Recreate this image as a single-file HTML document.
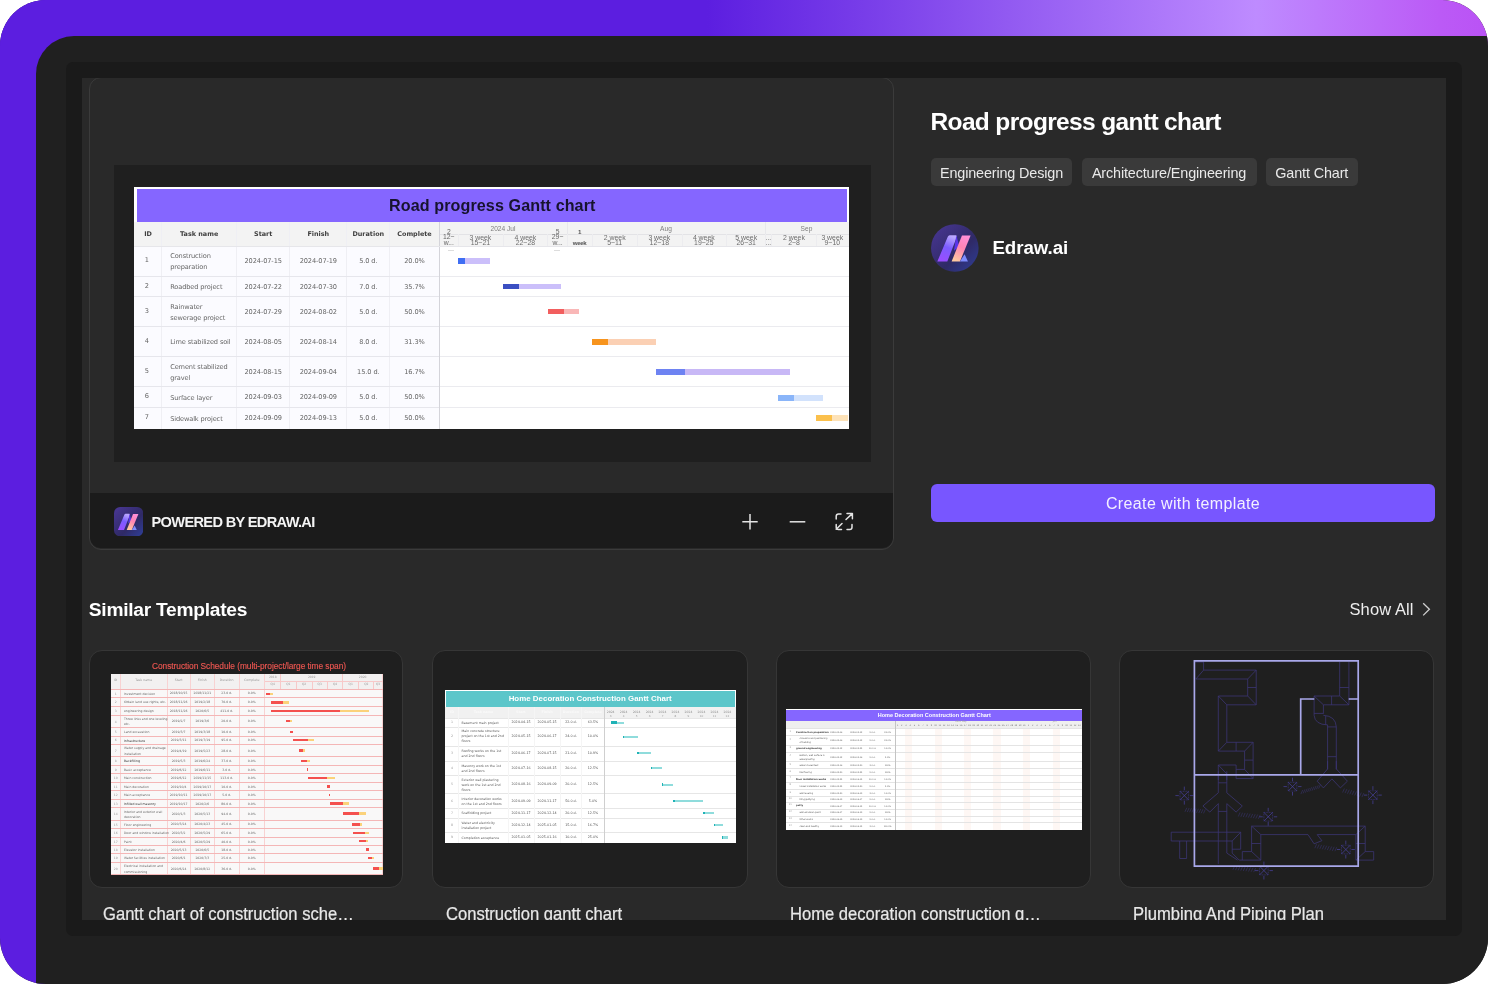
<!DOCTYPE html>
<html lang="en"><head><meta charset="utf-8"><title>Road progress gantt chart</title>
<style>
*{box-sizing:border-box;margin:0;padding:0}
html,body{width:1488px;height:984px;overflow:hidden;background:#fff}
body{font-family:"Liberation Sans",sans-serif;position:relative}
.abs{position:absolute}
#outer{position:absolute;left:0;top:0;width:1488px;height:984px;border-radius:46px;overflow:hidden;background:#202020}
#ptop{position:absolute;left:0;top:0;width:1488px;height:90px;background:linear-gradient(90deg,#5c1ee0 0px,#5c1ee0 707px,#be8bff 1256px,#bb5af6 1440px,#ba52f5 1488px)}
#pleft{position:absolute;left:0;top:0;width:90px;height:984px;background:#5c1ee0}
#frame{position:absolute;left:36px;top:36px;width:1452px;height:948px;background:#202020;border-top-left-radius:38px}
#inner{position:absolute;left:66px;top:62px;width:1396px;height:874px;background:#1a1a1a;border-radius:7px}
#content{position:absolute;left:82px;top:78px;width:1364px;height:842px;background:#292929;overflow:hidden}
#pg{position:absolute;left:-82px;top:-78px;width:1488px;height:984px}
.t{position:absolute;white-space:nowrap;line-height:1}
#maincard{position:absolute;left:89px;top:77px;width:805px;height:472.6px;border:1px solid #3b3b3b;border-radius:12px;overflow:hidden;background:#292929}
#prev{position:absolute;left:113.5px;top:165px;width:757px;height:297px;background:#1f1f1f}
#bar{position:absolute;left:90px;top:493px;width:803px;height:55px;background:#1b1b1b;border-radius:0 0 11px 11px}
.tag{position:absolute;top:157.8px;height:28.4px;background:#3a3a3a;border-radius:5px;color:#e9e9e9;font-size:14.4px;line-height:30.4px;text-align:center;white-space:nowrap;letter-spacing:-0.14px}
#btn{position:absolute;left:931px;top:484px;width:504px;height:38px;border-radius:6px;background:#7856ff;color:#f3f0ff;font-size:16px;line-height:40.4px;text-align:center;letter-spacing:0.37px}
.card{position:absolute;top:650.2px;width:314.5px;height:237.9px;border:1px solid #363636;border-radius:13px;background:#1f1f1f;overflow:hidden}
.cap{position:absolute;top:903.7px;font-size:17.7px;color:#e8e8e8;white-space:nowrap;line-height:20px;transform:scaleX(0.938);transform-origin:0 0;-webkit-text-stroke:0.2px #e8e8e8}
</style></head>
<body>
<div id="outer"><div id="ptop"></div><div id="pleft"></div><div id="frame"></div><div id="inner"></div>
<div id="content"><div id="pg">
<div id="maincard"></div>
<div id="prev"></div>
<div id="bar"></div>
<div id="gm" style="position:absolute;left:134.3px;top:187.2px;width:714.5px;height:241.4px;background:#fbfbff;overflow:hidden;filter:blur(0.3px);font-family:'DejaVu Sans','Liberation Sans',sans-serif"><div style="position:absolute;left:0px;top:0px;width:714.5px;height:34.5px;background:#fff;"></div><div style="position:absolute;left:2.4px;top:1.6px;width:710.6px;height:32.9px;background:#8566ff;"></div><div style="position:absolute;left:208px;top:8.64px;width:300px;font-size:16.1px;line-height:19.32px;color:#17132e;font-weight:bold;text-align:center;white-space:nowrap;font-family:'Liberation Sans',sans-serif;letter-spacing:0.1px;">Road progress Gantt chart</div><div style="position:absolute;left:0px;top:34.5px;width:714.5px;height:24.3px;background:#f3f3f3;"></div><div style="position:absolute;left:304.9px;top:58.8px;width:409.6px;height:182.6px;background:#ffffff;"></div><div style="position:absolute;left:27px;top:34.5px;width:0.8px;height:206.9px;background:#efeff4;"></div><div style="position:absolute;left:101.9px;top:34.5px;width:0.8px;height:206.9px;background:#efeff4;"></div><div style="position:absolute;left:155.1px;top:34.5px;width:0.8px;height:206.9px;background:#efeff4;"></div><div style="position:absolute;left:212.1px;top:34.5px;width:0.8px;height:206.9px;background:#efeff4;"></div><div style="position:absolute;left:255.1px;top:34.5px;width:0.8px;height:206.9px;background:#efeff4;"></div><div style="position:absolute;left:0px;top:88.65px;width:304.7px;height:0.9px;background:#e6e6ec;"></div><div style="position:absolute;left:304.7px;top:88.65px;width:409.8px;height:0.9px;background:#ebebef;"></div><div style="position:absolute;left:0px;top:108.85px;width:304.7px;height:0.9px;background:#e6e6ec;"></div><div style="position:absolute;left:304.7px;top:108.85px;width:409.8px;height:0.9px;background:#ebebef;"></div><div style="position:absolute;left:0px;top:138.95px;width:304.7px;height:0.9px;background:#e6e6ec;"></div><div style="position:absolute;left:304.7px;top:138.95px;width:409.8px;height:0.9px;background:#ebebef;"></div><div style="position:absolute;left:0px;top:168.85px;width:304.7px;height:0.9px;background:#e6e6ec;"></div><div style="position:absolute;left:304.7px;top:168.85px;width:409.8px;height:0.9px;background:#ebebef;"></div><div style="position:absolute;left:0px;top:198.95px;width:304.7px;height:0.9px;background:#e6e6ec;"></div><div style="position:absolute;left:304.7px;top:198.95px;width:409.8px;height:0.9px;background:#ebebef;"></div><div style="position:absolute;left:0px;top:219.65px;width:304.7px;height:0.9px;background:#e6e6ec;"></div><div style="position:absolute;left:304.7px;top:219.65px;width:409.8px;height:0.9px;background:#ebebef;"></div><div style="position:absolute;left:304.3px;top:34.5px;width:1px;height:206.9px;background:#d4d4da;"></div><div style="position:absolute;left:0px;top:58.4px;width:714.5px;height:0.8px;background:#e6e6ea;"></div><div style="position:absolute;left:-26.3px;top:43.53px;width:80px;font-size:6.45px;line-height:7.74px;color:#404040;font-weight:bold;text-align:center;white-space:nowrap;">ID</div><div style="position:absolute;left:24.85px;top:43.53px;width:80px;font-size:6.45px;line-height:7.74px;color:#404040;font-weight:bold;text-align:center;white-space:nowrap;">Task name</div><div style="position:absolute;left:88.9px;top:43.53px;width:80px;font-size:6.45px;line-height:7.74px;color:#404040;font-weight:bold;text-align:center;white-space:nowrap;">Start</div><div style="position:absolute;left:144px;top:43.53px;width:80px;font-size:6.45px;line-height:7.74px;color:#404040;font-weight:bold;text-align:center;white-space:nowrap;">Finish</div><div style="position:absolute;left:194px;top:43.53px;width:80px;font-size:6.45px;line-height:7.74px;color:#404040;font-weight:bold;text-align:center;white-space:nowrap;">Duration</div><div style="position:absolute;left:240.2px;top:43.53px;width:80px;font-size:6.45px;line-height:7.74px;color:#404040;font-weight:bold;text-align:center;white-space:nowrap;">Complete</div><div style="position:absolute;left:-27.5px;top:69.69px;width:80px;font-size:6.6px;line-height:7.92px;color:#666;font-weight:normal;text-align:center;white-space:nowrap;">1</div><div style="position:absolute;left:35.9px;top:63.65px;width:70px;font-size:6.6px;line-height:11.2px;color:#666;font-weight:normal;text-align:left;white-space:nowrap;letter-spacing:-0.12px;">Construction<br>preparation</div><div style="position:absolute;left:88.9px;top:70.89px;width:80px;font-size:6.6px;line-height:7.92px;color:#666;font-weight:normal;text-align:center;white-space:nowrap;letter-spacing:-0.1px;">2024-07-15</div><div style="position:absolute;left:144px;top:70.89px;width:80px;font-size:6.6px;line-height:7.92px;color:#666;font-weight:normal;text-align:center;white-space:nowrap;letter-spacing:-0.1px;">2024-07-19</div><div style="position:absolute;left:194px;top:70.89px;width:80px;font-size:6.6px;line-height:7.92px;color:#666;font-weight:normal;text-align:center;white-space:nowrap;letter-spacing:-0.1px;">5.0 d.</div><div style="position:absolute;left:240.2px;top:70.89px;width:80px;font-size:6.6px;line-height:7.92px;color:#666;font-weight:normal;text-align:center;white-space:nowrap;letter-spacing:-0.1px;">20.0%</div><div style="position:absolute;left:-27.5px;top:95.64px;width:80px;font-size:6.6px;line-height:7.92px;color:#666;font-weight:normal;text-align:center;white-space:nowrap;">2</div><div style="position:absolute;left:35.9px;top:95.2px;width:70px;font-size:6.6px;line-height:11.2px;color:#666;font-weight:normal;text-align:left;white-space:nowrap;letter-spacing:-0.12px;">Roadbed project</div><div style="position:absolute;left:88.9px;top:96.84px;width:80px;font-size:6.6px;line-height:7.92px;color:#666;font-weight:normal;text-align:center;white-space:nowrap;letter-spacing:-0.1px;">2024-07-22</div><div style="position:absolute;left:144px;top:96.84px;width:80px;font-size:6.6px;line-height:7.92px;color:#666;font-weight:normal;text-align:center;white-space:nowrap;letter-spacing:-0.1px;">2024-07-30</div><div style="position:absolute;left:194px;top:96.84px;width:80px;font-size:6.6px;line-height:7.92px;color:#666;font-weight:normal;text-align:center;white-space:nowrap;letter-spacing:-0.1px;">7.0 d.</div><div style="position:absolute;left:240.2px;top:96.84px;width:80px;font-size:6.6px;line-height:7.92px;color:#666;font-weight:normal;text-align:center;white-space:nowrap;letter-spacing:-0.1px;">35.7%</div><div style="position:absolute;left:-27.5px;top:121.09px;width:80px;font-size:6.6px;line-height:7.92px;color:#666;font-weight:normal;text-align:center;white-space:nowrap;">3</div><div style="position:absolute;left:35.9px;top:115.05px;width:70px;font-size:6.6px;line-height:11.2px;color:#666;font-weight:normal;text-align:left;white-space:nowrap;letter-spacing:-0.12px;">Rainwater<br>sewerage project</div><div style="position:absolute;left:88.9px;top:122.29px;width:80px;font-size:6.6px;line-height:7.92px;color:#666;font-weight:normal;text-align:center;white-space:nowrap;letter-spacing:-0.1px;">2024-07-29</div><div style="position:absolute;left:144px;top:122.29px;width:80px;font-size:6.6px;line-height:7.92px;color:#666;font-weight:normal;text-align:center;white-space:nowrap;letter-spacing:-0.1px;">2024-08-02</div><div style="position:absolute;left:194px;top:122.29px;width:80px;font-size:6.6px;line-height:7.92px;color:#666;font-weight:normal;text-align:center;white-space:nowrap;letter-spacing:-0.1px;">5.0 d.</div><div style="position:absolute;left:240.2px;top:122.29px;width:80px;font-size:6.6px;line-height:7.92px;color:#666;font-weight:normal;text-align:center;white-space:nowrap;letter-spacing:-0.1px;">50.0%</div><div style="position:absolute;left:-27.5px;top:150.49px;width:80px;font-size:6.6px;line-height:7.92px;color:#666;font-weight:normal;text-align:center;white-space:nowrap;">4</div><div style="position:absolute;left:35.9px;top:150.05px;width:70px;font-size:6.6px;line-height:11.2px;color:#666;font-weight:normal;text-align:left;white-space:nowrap;letter-spacing:-0.12px;">Lime stabilized soil</div><div style="position:absolute;left:88.9px;top:151.69px;width:80px;font-size:6.6px;line-height:7.92px;color:#666;font-weight:normal;text-align:center;white-space:nowrap;letter-spacing:-0.1px;">2024-08-05</div><div style="position:absolute;left:144px;top:151.69px;width:80px;font-size:6.6px;line-height:7.92px;color:#666;font-weight:normal;text-align:center;white-space:nowrap;letter-spacing:-0.1px;">2024-08-14</div><div style="position:absolute;left:194px;top:151.69px;width:80px;font-size:6.6px;line-height:7.92px;color:#666;font-weight:normal;text-align:center;white-space:nowrap;letter-spacing:-0.1px;">8.0 d.</div><div style="position:absolute;left:240.2px;top:151.69px;width:80px;font-size:6.6px;line-height:7.92px;color:#666;font-weight:normal;text-align:center;white-space:nowrap;letter-spacing:-0.1px;">31.3%</div><div style="position:absolute;left:-27.5px;top:180.89px;width:80px;font-size:6.6px;line-height:7.92px;color:#666;font-weight:normal;text-align:center;white-space:nowrap;">5</div><div style="position:absolute;left:35.9px;top:174.85px;width:70px;font-size:6.6px;line-height:11.2px;color:#666;font-weight:normal;text-align:left;white-space:nowrap;letter-spacing:-0.12px;">Cement stabilized<br>gravel</div><div style="position:absolute;left:88.9px;top:182.09px;width:80px;font-size:6.6px;line-height:7.92px;color:#666;font-weight:normal;text-align:center;white-space:nowrap;letter-spacing:-0.1px;">2024-08-15</div><div style="position:absolute;left:144px;top:182.09px;width:80px;font-size:6.6px;line-height:7.92px;color:#666;font-weight:normal;text-align:center;white-space:nowrap;letter-spacing:-0.1px;">2024-09-04</div><div style="position:absolute;left:194px;top:182.09px;width:80px;font-size:6.6px;line-height:7.92px;color:#666;font-weight:normal;text-align:center;white-space:nowrap;letter-spacing:-0.1px;">15.0 d.</div><div style="position:absolute;left:240.2px;top:182.09px;width:80px;font-size:6.6px;line-height:7.92px;color:#666;font-weight:normal;text-align:center;white-space:nowrap;letter-spacing:-0.1px;">16.7%</div><div style="position:absolute;left:-27.5px;top:205.89px;width:80px;font-size:6.6px;line-height:7.92px;color:#666;font-weight:normal;text-align:center;white-space:nowrap;">6</div><div style="position:absolute;left:35.9px;top:205.45px;width:70px;font-size:6.6px;line-height:11.2px;color:#666;font-weight:normal;text-align:left;white-space:nowrap;letter-spacing:-0.12px;">Surface layer</div><div style="position:absolute;left:88.9px;top:207.09px;width:80px;font-size:6.6px;line-height:7.92px;color:#666;font-weight:normal;text-align:center;white-space:nowrap;letter-spacing:-0.1px;">2024-09-03</div><div style="position:absolute;left:144px;top:207.09px;width:80px;font-size:6.6px;line-height:7.92px;color:#666;font-weight:normal;text-align:center;white-space:nowrap;letter-spacing:-0.1px;">2024-09-09</div><div style="position:absolute;left:194px;top:207.09px;width:80px;font-size:6.6px;line-height:7.92px;color:#666;font-weight:normal;text-align:center;white-space:nowrap;letter-spacing:-0.1px;">5.0 d.</div><div style="position:absolute;left:240.2px;top:207.09px;width:80px;font-size:6.6px;line-height:7.92px;color:#666;font-weight:normal;text-align:center;white-space:nowrap;letter-spacing:-0.1px;">50.0%</div><div style="position:absolute;left:-27.5px;top:226.89px;width:80px;font-size:6.6px;line-height:7.92px;color:#666;font-weight:normal;text-align:center;white-space:nowrap;">7</div><div style="position:absolute;left:35.9px;top:226.45px;width:70px;font-size:6.6px;line-height:11.2px;color:#666;font-weight:normal;text-align:left;white-space:nowrap;letter-spacing:-0.12px;">Sidewalk project</div><div style="position:absolute;left:88.9px;top:228.09px;width:80px;font-size:6.6px;line-height:7.92px;color:#666;font-weight:normal;text-align:center;white-space:nowrap;letter-spacing:-0.1px;">2024-09-09</div><div style="position:absolute;left:144px;top:228.09px;width:80px;font-size:6.6px;line-height:7.92px;color:#666;font-weight:normal;text-align:center;white-space:nowrap;letter-spacing:-0.1px;">2024-09-13</div><div style="position:absolute;left:194px;top:228.09px;width:80px;font-size:6.6px;line-height:7.92px;color:#666;font-weight:normal;text-align:center;white-space:nowrap;letter-spacing:-0.1px;">5.0 d.</div><div style="position:absolute;left:240.2px;top:228.09px;width:80px;font-size:6.6px;line-height:7.92px;color:#666;font-weight:normal;text-align:center;white-space:nowrap;letter-spacing:-0.1px;">50.0%</div><div style="position:absolute;left:305.3px;top:46.4px;width:409.2px;height:0.6px;background:#e3e3e6;"></div><div style="position:absolute;left:432.23px;top:34.5px;width:0.6px;height:12.3px;background:#e8e8eb;"></div><div style="position:absolute;left:630.32px;top:34.5px;width:0.6px;height:12.3px;background:#e8e8eb;"></div><div style="position:absolute;left:323.6px;top:46.8px;width:0.6px;height:12px;background:#ececef;"></div><div style="position:absolute;left:368.33px;top:46.8px;width:0.6px;height:12px;background:#ececef;"></div><div style="position:absolute;left:413.06px;top:46.8px;width:0.6px;height:12px;background:#ececef;"></div><div style="position:absolute;left:432.23px;top:46.8px;width:0.6px;height:12px;background:#ececef;"></div><div style="position:absolute;left:457.79px;top:46.8px;width:0.6px;height:12px;background:#ececef;"></div><div style="position:absolute;left:502.52px;top:46.8px;width:0.6px;height:12px;background:#ececef;"></div><div style="position:absolute;left:547.25px;top:46.8px;width:0.6px;height:12px;background:#ececef;"></div><div style="position:absolute;left:591.98px;top:46.8px;width:0.6px;height:12px;background:#ececef;"></div><div style="position:absolute;left:630.32px;top:46.8px;width:0.6px;height:12px;background:#ececef;"></div><div style="position:absolute;left:636.71px;top:46.8px;width:0.6px;height:12px;background:#ececef;"></div><div style="position:absolute;left:681.44px;top:46.8px;width:0.6px;height:12px;background:#ececef;"></div><div style="position:absolute;left:328.7px;top:38.14px;width:80px;font-size:6.6px;line-height:7.92px;color:#7e7e7e;font-weight:normal;text-align:center;white-space:nowrap;font-family:'Liberation Sans',sans-serif;">2024 Jul</div><div style="position:absolute;left:491.7px;top:38.14px;width:80px;font-size:6.6px;line-height:7.92px;color:#7e7e7e;font-weight:normal;text-align:center;white-space:nowrap;font-family:'Liberation Sans',sans-serif;">Aug</div><div style="position:absolute;left:632.2px;top:38.14px;width:80px;font-size:6.6px;line-height:7.92px;color:#7e7e7e;font-weight:normal;text-align:center;white-space:nowrap;font-family:'Liberation Sans',sans-serif;">Sep</div><div style="position:absolute;left:294.5px;top:41.9px;width:40px;font-size:6.8px;line-height:5.4px;color:#666;font-weight:normal;text-align:center;white-space:nowrap;font-family:'Liberation Sans',sans-serif;">2<br>12~<br>w...</div><div style="position:absolute;left:326.1px;top:48.6px;width:40px;font-size:6.9px;line-height:4.8px;color:#6c6c6c;font-weight:normal;text-align:center;white-space:nowrap;font-family:'Liberation Sans',sans-serif;">3 week<br>15~21</div><div style="position:absolute;left:371.1px;top:48.6px;width:40px;font-size:6.9px;line-height:4.8px;color:#6c6c6c;font-weight:normal;text-align:center;white-space:nowrap;font-family:'Liberation Sans',sans-serif;">4 week<br>22~28</div><div style="position:absolute;left:403.3px;top:41.9px;width:40px;font-size:6.8px;line-height:5.4px;color:#666;font-weight:normal;text-align:center;white-space:nowrap;font-family:'Liberation Sans',sans-serif;">5<br>29~<br>w...</div><div style="position:absolute;left:425.3px;top:39px;width:40px;font-size:6.2px;line-height:11.2px;color:#555;font-weight:normal;text-align:center;white-space:nowrap;font-family:'Liberation Sans',sans-serif;font-weight:bold;letter-spacing:-0.4px;">1<br>week</div><div style="position:absolute;left:460.4px;top:48.6px;width:40px;font-size:6.9px;line-height:4.8px;color:#6c6c6c;font-weight:normal;text-align:center;white-space:nowrap;font-family:'Liberation Sans',sans-serif;">2 week<br>5~11</div><div style="position:absolute;left:505px;top:48.6px;width:40px;font-size:6.9px;line-height:4.8px;color:#6c6c6c;font-weight:normal;text-align:center;white-space:nowrap;font-family:'Liberation Sans',sans-serif;">3 week<br>12~18</div><div style="position:absolute;left:549.5px;top:48.6px;width:40px;font-size:6.9px;line-height:4.8px;color:#6c6c6c;font-weight:normal;text-align:center;white-space:nowrap;font-family:'Liberation Sans',sans-serif;">4 week<br>19~25</div><div style="position:absolute;left:591.9px;top:48.6px;width:40px;font-size:6.9px;line-height:4.8px;color:#6c6c6c;font-weight:normal;text-align:center;white-space:nowrap;font-family:'Liberation Sans',sans-serif;">5 week<br>26~31</div><div style="position:absolute;left:614.1px;top:48.6px;width:40px;font-size:6.9px;line-height:4.8px;color:#6c6c6c;font-weight:normal;text-align:center;white-space:nowrap;font-family:'Liberation Sans',sans-serif;">...<br>...</div><div style="position:absolute;left:639.7px;top:48.6px;width:40px;font-size:6.9px;line-height:4.8px;color:#6c6c6c;font-weight:normal;text-align:center;white-space:nowrap;font-family:'Liberation Sans',sans-serif;">2 week<br>2~8</div><div style="position:absolute;left:678px;top:48.6px;width:40px;font-size:6.9px;line-height:4.8px;color:#6c6c6c;font-weight:normal;text-align:center;white-space:nowrap;font-family:'Liberation Sans',sans-serif;">3 week<br>9~10</div><div style="position:absolute;left:313.7px;top:63px;width:6px;height:0.6px;background:#ddd;"></div><div style="position:absolute;left:420.2px;top:63px;width:6px;height:0.6px;background:#ddd;"></div><div style="position:absolute;left:323.8px;top:71.1px;width:32.4px;height:5.6px;background:#cbbffa;"></div><div style="position:absolute;left:323.8px;top:71.1px;width:7.3px;height:5.6px;background:#3f6ef3;"></div><div style="position:absolute;left:368.6px;top:96.5px;width:57.7px;height:5.6px;background:#cbbffa;"></div><div style="position:absolute;left:368.6px;top:96.5px;width:16.6px;height:5.6px;background:#3b4fc2;"></div><div style="position:absolute;left:413.6px;top:121.6px;width:31.5px;height:5.6px;background:#f9b7b7;"></div><div style="position:absolute;left:413.6px;top:121.6px;width:16.1px;height:5.6px;background:#f25e5e;"></div><div style="position:absolute;left:458.1px;top:152.2px;width:63.8px;height:5.6px;background:#fbd0b4;"></div><div style="position:absolute;left:458.1px;top:152.2px;width:16px;height:5.6px;background:#f7941d;"></div><div style="position:absolute;left:522.2px;top:182.1px;width:134px;height:5.6px;background:#c8b8f6;"></div><div style="position:absolute;left:522.2px;top:182.1px;width:29px;height:5.6px;background:#6e83f2;"></div><div style="position:absolute;left:643.5px;top:207.8px;width:45px;height:5.6px;background:#d2e2fc;"></div><div style="position:absolute;left:643.5px;top:207.8px;width:16.3px;height:5.6px;background:#8ab5f9;"></div><div style="position:absolute;left:681.9px;top:228.1px;width:31.6px;height:5.6px;background:#fde2b8;"></div><div style="position:absolute;left:681.9px;top:228.1px;width:16px;height:5.6px;background:#fbc04c;"></div></div>

<svg class="abs" style="left:114.1px;top:506.6px" width="29.3" height="29.3" viewBox="0 0 715 715">
<defs>
<linearGradient id="lg1a" x1="0.6" y1="0" x2="0.3" y2="1"><stop offset="0" stop-color="#b9a6ff"/><stop offset="0.45" stop-color="#7b5cff"/><stop offset="1" stop-color="#9a4dff"/></linearGradient>
<linearGradient id="lg1b" x1="0.7" y1="0" x2="0.3" y2="1"><stop offset="0" stop-color="#ff8fd8"/><stop offset="0.45" stop-color="#ff84b4"/><stop offset="1" stop-color="#ffc9a0"/></linearGradient>
<linearGradient id="lg1c" x1="0" y1="0" x2="1" y2="1"><stop offset="0" stop-color="#4a3796"/><stop offset="0.6" stop-color="#2f2a66"/><stop offset="1" stop-color="#2f3f9a"/></linearGradient>
</defs>
<rect x="0" y="0" width="715" height="715" rx="150" fill="url(#lg1c)"/>
<path d="M280 165 Q262 165 252 190 L95 560 L245 560 L385 200 Q392 165 372 165 Z" fill="url(#lg1a)"/>
<path d="M380 165 L425 330 L345 400 Z" fill="#5a35e8"/>
<path d="M465 170 L595 170 L435 560 L310 560 Z" fill="url(#lg1b)"/>
<path d="M505 450 L555 560 L435 560 Z" fill="#7f8cff"/>
</svg>
<div class="t" id="pw" style="left:151.5px;top:514.5px;font-size:14.6px;font-weight:bold;color:#f4f4f4;letter-spacing:-0.66px">POWERED BY EDRAW.AI</div>
<svg class="abs" style="left:735px;top:506px" width="130" height="32" viewBox="735 506 130 32" fill="none" stroke="#e4e4e4" stroke-width="1.5">
<path d="M742.3 521.8H757.7M750 514.1V529.5"/>
<path d="M789.7 521.8H805.3"/>
<path d="M841 514H838.5Q836.2 514 836.2 516.3V519M836.2 524.5V527.2Q836.2 529.5 838.5 529.5H841.5M847 529.5H849.7Q852 529.5 852 527.2V524.5" stroke-linecap="round"/>
<path d="M846 519.5L852.3 513.6M847 513.4H852.4V518.8" stroke-linecap="round" stroke-linejoin="round"/>
<path d="M842 523.5L836.2 529.3" stroke-linecap="round"/>
</svg>
<div class="t" id="title" style="left:930.5px;top:110.3px;font-size:24.5px;font-weight:bold;color:#fff;letter-spacing:-0.64px">Road progress gantt chart</div>
<div class="tag" style="left:931px;width:141px">Engineering Design</div>
<div class="tag" style="left:1081.5px;width:175px">Architecture/Engineering</div>
<div class="tag" style="left:1266px;width:91.5px">Gantt Chart</div>
<svg class="abs" style="left:931.4px;top:223.6px" width="47.6" height="48" viewBox="0 0 715 715">
<defs>
<linearGradient id="lg2a" x1="0.6" y1="0" x2="0.3" y2="1"><stop offset="0" stop-color="#b9a6ff"/><stop offset="0.45" stop-color="#7b5cff"/><stop offset="1" stop-color="#9a4dff"/></linearGradient>
<linearGradient id="lg2b" x1="0.7" y1="0" x2="0.3" y2="1"><stop offset="0" stop-color="#ff8fd8"/><stop offset="0.45" stop-color="#ff84b4"/><stop offset="1" stop-color="#ffc9a0"/></linearGradient>
<linearGradient id="lg2c" x1="0" y1="0" x2="1" y2="1"><stop offset="0" stop-color="#4a3796"/><stop offset="0.6" stop-color="#2f2a66"/><stop offset="1" stop-color="#2f3f9a"/></linearGradient>
</defs>
<rect x="0" y="0" width="715" height="715" rx="357.5" fill="url(#lg2c)"/>
<path d="M280 165 Q262 165 252 190 L95 560 L245 560 L385 200 Q392 165 372 165 Z" fill="url(#lg2a)"/>
<path d="M380 165 L425 330 L345 400 Z" fill="#5a35e8"/>
<path d="M465 170 L595 170 L435 560 L310 560 Z" fill="url(#lg2b)"/>
<path d="M505 450 L555 560 L435 560 Z" fill="#7f8cff"/>
</svg>
<div class="t" id="edraw" style="left:992.4px;top:239.3px;font-size:18.7px;font-weight:bold;color:#fff;letter-spacing:-0.04px">Edraw.ai</div>
<div id="btn">Create with template</div>
<div class="t" id="sim" style="left:88.8px;top:600.2px;font-size:19.2px;font-weight:bold;color:#fff;letter-spacing:-0.26px">Similar Templates</div>
<div class="t" id="showall" style="left:1349.5px;top:601px;font-size:16.5px;color:#ededed;letter-spacing:0.1px">Show All</div>
<svg class="abs" style="left:1418px;top:600px" width="16" height="20" viewBox="1418 600 16 20" fill="none" stroke="#cfcfcf" stroke-width="1.3"><path d="M1423.2 603.2L1429.4 609.3L1423.2 615.4"/></svg>
<div class="card" style="left:88.9px"></div>
<div class="t" style="left:131.86px;top:661.78px;width:234.31px;text-align:center;font-size:8.35px;color:#ec5651;letter-spacing:-0.05px;-webkit-text-stroke:0.15px #ec5651">Construction Schedule (multi-project/large time span)</div><div style="position:absolute;left:110.6px;top:674.3px;width:271.98px;height:200.57px;background:#f9f8f8;overflow:hidden;font-family:'DejaVu Sans',sans-serif;filter:blur(0.3px)"><div style="position:absolute;left:0px;top:0px;width:271.98px;height:14.79px;background:#f2f0f0"></div><div style="position:absolute;left:-0.4px;top:0px;width:0.8px;height:200.57px;background:#f8d2d2"></div><div style="position:absolute;left:9.56px;top:0px;width:0.8px;height:200.57px;background:#f8d2d2"></div><div style="position:absolute;left:55.93px;top:0px;width:0.8px;height:200.57px;background:#f8d2d2"></div><div style="position:absolute;left:79.26px;top:0px;width:0.8px;height:200.57px;background:#f8d2d2"></div><div style="position:absolute;left:103.44px;top:0px;width:0.8px;height:200.57px;background:#f8d2d2"></div><div style="position:absolute;left:127.91px;top:0px;width:0.8px;height:200.57px;background:#f8d2d2"></div><div style="position:absolute;left:153.51px;top:0px;width:0.8px;height:200.57px;background:#f8d2d2"></div><div style="position:absolute;left:271.58px;top:0px;width:0.8px;height:200.57px;background:#f8d2d2"></div><div style="position:absolute;left:0px;top:-1.25px;width:271.98px;height:0.8px;background:#f4b6b6"></div><div style="position:absolute;left:0px;top:14.39px;width:271.98px;height:0.8px;background:#f4b6b6"></div><div style="position:absolute;left:0px;top:22.93px;width:271.98px;height:0.8px;background:#f4b6b6"></div><div style="position:absolute;left:0px;top:31.46px;width:271.98px;height:0.8px;background:#f4b6b6"></div><div style="position:absolute;left:0px;top:40.57px;width:271.98px;height:0.8px;background:#f4b6b6"></div><div style="position:absolute;left:0px;top:52.8px;width:271.98px;height:0.8px;background:#f4b6b6"></div><div style="position:absolute;left:0px;top:61.34px;width:271.98px;height:0.8px;background:#f4b6b6"></div><div style="position:absolute;left:0px;top:69.87px;width:271.98px;height:0.8px;background:#f4b6b6"></div><div style="position:absolute;left:0px;top:82.1px;width:271.98px;height:0.8px;background:#f4b6b6"></div><div style="position:absolute;left:0px;top:90.64px;width:271.98px;height:0.8px;background:#f4b6b6"></div><div style="position:absolute;left:0px;top:99.17px;width:271.98px;height:0.8px;background:#f4b6b6"></div><div style="position:absolute;left:0px;top:107.71px;width:271.98px;height:0.8px;background:#f4b6b6"></div><div style="position:absolute;left:0px;top:115.96px;width:271.98px;height:0.8px;background:#f4b6b6"></div><div style="position:absolute;left:0px;top:124.49px;width:271.98px;height:0.8px;background:#f4b6b6"></div><div style="position:absolute;left:0px;top:133.03px;width:271.98px;height:0.8px;background:#f4b6b6"></div><div style="position:absolute;left:0px;top:145.26px;width:271.98px;height:0.8px;background:#f4b6b6"></div><div style="position:absolute;left:0px;top:154.08px;width:271.98px;height:0.8px;background:#f4b6b6"></div><div style="position:absolute;left:0px;top:162.62px;width:271.98px;height:0.8px;background:#f4b6b6"></div><div style="position:absolute;left:0px;top:170.87px;width:271.98px;height:0.8px;background:#f4b6b6"></div><div style="position:absolute;left:0px;top:178.83px;width:271.98px;height:0.8px;background:#f4b6b6"></div><div style="position:absolute;left:0px;top:187.94px;width:271.98px;height:0.8px;background:#f4b6b6"></div><div style="position:absolute;left:0px;top:200.17px;width:271.98px;height:0.8px;background:#f4b6b6"></div><div style="position:absolute;left:153.91px;top:6.53px;width:118.07px;height:0.6px;background:#f7c9c9"></div><div style="position:absolute;left:169.83px;top:6.83px;width:0.6px;height:7.97px;background:#f7c9c9"></div><div style="position:absolute;left:185.48px;top:6.83px;width:0.6px;height:7.97px;background:#f7c9c9"></div><div style="position:absolute;left:201.12px;top:6.83px;width:0.6px;height:7.97px;background:#f7c9c9"></div><div style="position:absolute;left:216.49px;top:6.83px;width:0.6px;height:7.97px;background:#f7c9c9"></div><div style="position:absolute;left:231.85px;top:6.83px;width:0.6px;height:7.97px;background:#f7c9c9"></div><div style="position:absolute;left:247.78px;top:6.83px;width:0.6px;height:7.97px;background:#f7c9c9"></div><div style="position:absolute;left:262.86px;top:6.83px;width:0.6px;height:7.97px;background:#f7c9c9"></div><div style="position:absolute;left:169.83px;top:-0.85px;width:0.6px;height:7.68px;background:#f7c9c9"></div><div style="position:absolute;left:231.85px;top:-0.85px;width:0.6px;height:7.68px;background:#f7c9c9"></div><div style="position:absolute;left:-25.02px;top:4.42px;width:60px;font-size:3.2px;line-height:3.68px;color:#999;text-align:center;white-space:nowrap">ID</div><div style="position:absolute;left:3.14px;top:4.42px;width:60px;font-size:3.2px;line-height:3.68px;color:#999;text-align:center;white-space:nowrap">Task name</div><div style="position:absolute;left:37.99px;top:4.42px;width:60px;font-size:3.2px;line-height:3.68px;color:#999;text-align:center;white-space:nowrap">Start</div><div style="position:absolute;left:61.75px;top:4.42px;width:60px;font-size:3.2px;line-height:3.68px;color:#999;text-align:center;white-space:nowrap">Finish</div><div style="position:absolute;left:86.07px;top:4.42px;width:60px;font-size:3.2px;line-height:3.68px;color:#999;text-align:center;white-space:nowrap">Duration</div><div style="position:absolute;left:111.11px;top:4.42px;width:60px;font-size:3.2px;line-height:3.68px;color:#999;text-align:center;white-space:nowrap">Complete</div><div style="position:absolute;left:132.16px;top:1.4px;width:60px;font-size:3px;line-height:3.45px;color:#999;text-align:center;white-space:nowrap">2018</div><div style="position:absolute;left:171.14px;top:1.4px;width:60px;font-size:3px;line-height:3.45px;color:#999;text-align:center;white-space:nowrap">2019</div><div style="position:absolute;left:222.06px;top:1.4px;width:60px;font-size:3px;line-height:3.45px;color:#999;text-align:center;white-space:nowrap">2020</div><div style="position:absolute;left:132.16px;top:9.09px;width:60px;font-size:3px;line-height:3.45px;color:#9a9a9a;text-align:center;white-space:nowrap">Q4</div><div style="position:absolute;left:147.81px;top:9.09px;width:60px;font-size:3px;line-height:3.45px;color:#9a9a9a;text-align:center;white-space:nowrap">Q1</div><div style="position:absolute;left:163.46px;top:9.09px;width:60px;font-size:3px;line-height:3.45px;color:#9a9a9a;text-align:center;white-space:nowrap">Q2</div><div style="position:absolute;left:179.1px;top:9.09px;width:60px;font-size:3px;line-height:3.45px;color:#9a9a9a;text-align:center;white-space:nowrap">Q3</div><div style="position:absolute;left:194.47px;top:9.09px;width:60px;font-size:3px;line-height:3.45px;color:#9a9a9a;text-align:center;white-space:nowrap">Q4</div><div style="position:absolute;left:210.11px;top:9.09px;width:60px;font-size:3px;line-height:3.45px;color:#9a9a9a;text-align:center;white-space:nowrap">Q1</div><div style="position:absolute;left:225.76px;top:9.09px;width:60px;font-size:3px;line-height:3.45px;color:#9a9a9a;text-align:center;white-space:nowrap">Q2</div><div style="position:absolute;left:237.43px;top:9.09px;width:60px;font-size:3px;line-height:3.45px;color:#9a9a9a;text-align:center;white-space:nowrap">Q3</div><div style="position:absolute;left:-0.88px;top:18.24px;width:12px;font-size:3px;line-height:3.45px;color:#999;text-align:center;white-space:nowrap">1</div><div style="position:absolute;left:13.37px;top:17.36px;width:50px;font-size:3.1px;line-height:5.2px;color:#6a6a6a;text-align:left;white-space:nowrap">Investment decision</div><div style="position:absolute;left:37.99px;top:18.18px;width:60px;font-size:3.1px;line-height:3.56px;color:#6a6a6a;text-align:center;white-space:nowrap">2018/10/15</div><div style="position:absolute;left:61.75px;top:18.18px;width:60px;font-size:3.1px;line-height:3.56px;color:#6a6a6a;text-align:center;white-space:nowrap">2018/11/21</div><div style="position:absolute;left:86.07px;top:18.18px;width:60px;font-size:3.1px;line-height:3.56px;color:#6a6a6a;text-align:center;white-space:nowrap">23.0 d.</div><div style="position:absolute;left:111.11px;top:18.18px;width:60px;font-size:3.1px;line-height:3.56px;color:#6a6a6a;text-align:center;white-space:nowrap">0.0%</div><div style="position:absolute;left:-0.88px;top:26.77px;width:12px;font-size:3px;line-height:3.45px;color:#999;text-align:center;white-space:nowrap">2</div><div style="position:absolute;left:13.37px;top:25.9px;width:50px;font-size:3.1px;line-height:5.2px;color:#6a6a6a;text-align:left;white-space:nowrap">Obtain land use rights, etc.</div><div style="position:absolute;left:37.99px;top:26.71px;width:60px;font-size:3.1px;line-height:3.56px;color:#6a6a6a;text-align:center;white-space:nowrap">2018/11/26</div><div style="position:absolute;left:61.75px;top:26.71px;width:60px;font-size:3.1px;line-height:3.56px;color:#6a6a6a;text-align:center;white-space:nowrap">2019/2/18</div><div style="position:absolute;left:86.07px;top:26.71px;width:60px;font-size:3.1px;line-height:3.56px;color:#6a6a6a;text-align:center;white-space:nowrap">70.0 d.</div><div style="position:absolute;left:111.11px;top:26.71px;width:60px;font-size:3.1px;line-height:3.56px;color:#6a6a6a;text-align:center;white-space:nowrap">0.0%</div><div style="position:absolute;left:-0.88px;top:35.59px;width:12px;font-size:3px;line-height:3.45px;color:#999;text-align:center;white-space:nowrap">3</div><div style="position:absolute;left:13.37px;top:34.72px;width:50px;font-size:3.1px;line-height:5.2px;color:#6a6a6a;text-align:left;white-space:nowrap">engineering design</div><div style="position:absolute;left:37.99px;top:35.53px;width:60px;font-size:3.1px;line-height:3.56px;color:#6a6a6a;text-align:center;white-space:nowrap">2018/11/26</div><div style="position:absolute;left:61.75px;top:35.53px;width:60px;font-size:3.1px;line-height:3.56px;color:#6a6a6a;text-align:center;white-space:nowrap">2020/6/5</div><div style="position:absolute;left:86.07px;top:35.53px;width:60px;font-size:3.1px;line-height:3.56px;color:#6a6a6a;text-align:center;white-space:nowrap">411.0 d.</div><div style="position:absolute;left:111.11px;top:35.53px;width:60px;font-size:3.1px;line-height:3.56px;color:#6a6a6a;text-align:center;white-space:nowrap">0.0%</div><div style="position:absolute;left:-0.88px;top:46.26px;width:12px;font-size:3px;line-height:3.45px;color:#999;text-align:center;white-space:nowrap">4</div><div style="position:absolute;left:13.37px;top:42.78px;width:50px;font-size:3.1px;line-height:5.2px;color:#6a6a6a;text-align:left;white-space:nowrap">Three links and one leveling<br>etc.</div><div style="position:absolute;left:37.99px;top:46.2px;width:60px;font-size:3.1px;line-height:3.56px;color:#6a6a6a;text-align:center;white-space:nowrap">2019/2/7</div><div style="position:absolute;left:61.75px;top:46.2px;width:60px;font-size:3.1px;line-height:3.56px;color:#6a6a6a;text-align:center;white-space:nowrap">2019/3/6</div><div style="position:absolute;left:86.07px;top:46.2px;width:60px;font-size:3.1px;line-height:3.56px;color:#6a6a6a;text-align:center;white-space:nowrap">20.0 d.</div><div style="position:absolute;left:111.11px;top:46.2px;width:60px;font-size:3.1px;line-height:3.56px;color:#6a6a6a;text-align:center;white-space:nowrap">0.0%</div><div style="position:absolute;left:-0.88px;top:56.64px;width:12px;font-size:3px;line-height:3.45px;color:#999;text-align:center;white-space:nowrap">5</div><div style="position:absolute;left:13.37px;top:55.77px;width:50px;font-size:3.1px;line-height:5.2px;color:#6a6a6a;text-align:left;white-space:nowrap">Land excavation</div><div style="position:absolute;left:37.99px;top:56.59px;width:60px;font-size:3.1px;line-height:3.56px;color:#6a6a6a;text-align:center;white-space:nowrap">2019/3/7</div><div style="position:absolute;left:61.75px;top:56.59px;width:60px;font-size:3.1px;line-height:3.56px;color:#6a6a6a;text-align:center;white-space:nowrap">2019/3/18</div><div style="position:absolute;left:86.07px;top:56.59px;width:60px;font-size:3.1px;line-height:3.56px;color:#6a6a6a;text-align:center;white-space:nowrap">10.0 d.</div><div style="position:absolute;left:111.11px;top:56.59px;width:60px;font-size:3.1px;line-height:3.56px;color:#6a6a6a;text-align:center;white-space:nowrap">0.0%</div><div style="position:absolute;left:-0.88px;top:65.18px;width:12px;font-size:3px;line-height:3.45px;color:#999;text-align:center;white-space:nowrap">6</div><div style="position:absolute;left:13.37px;top:64.3px;width:50px;font-size:3.1px;line-height:5.2px;color:#333;text-align:left;white-space:nowrap">Infrastructure</div><div style="position:absolute;left:37.99px;top:65.12px;width:60px;font-size:3.1px;line-height:3.56px;color:#6a6a6a;text-align:center;white-space:nowrap">2019/3/11</div><div style="position:absolute;left:61.75px;top:65.12px;width:60px;font-size:3.1px;line-height:3.56px;color:#6a6a6a;text-align:center;white-space:nowrap">2019/7/19</div><div style="position:absolute;left:86.07px;top:65.12px;width:60px;font-size:3.1px;line-height:3.56px;color:#6a6a6a;text-align:center;white-space:nowrap">95.0 d.</div><div style="position:absolute;left:111.11px;top:65.12px;width:60px;font-size:3.1px;line-height:3.56px;color:#6a6a6a;text-align:center;white-space:nowrap">0.0%</div><div style="position:absolute;left:-0.88px;top:75.56px;width:12px;font-size:3px;line-height:3.45px;color:#999;text-align:center;white-space:nowrap">7</div><div style="position:absolute;left:13.37px;top:72.09px;width:50px;font-size:3.1px;line-height:5.2px;color:#6a6a6a;text-align:left;white-space:nowrap">Water supply and drainage<br>installation</div><div style="position:absolute;left:37.99px;top:75.5px;width:60px;font-size:3.1px;line-height:3.56px;color:#6a6a6a;text-align:center;white-space:nowrap">2019/4/19</div><div style="position:absolute;left:61.75px;top:75.5px;width:60px;font-size:3.1px;line-height:3.56px;color:#6a6a6a;text-align:center;white-space:nowrap">2019/5/23</div><div style="position:absolute;left:86.07px;top:75.5px;width:60px;font-size:3.1px;line-height:3.56px;color:#6a6a6a;text-align:center;white-space:nowrap">28.0 d.</div><div style="position:absolute;left:111.11px;top:75.5px;width:60px;font-size:3.1px;line-height:3.56px;color:#6a6a6a;text-align:center;white-space:nowrap">0.0%</div><div style="position:absolute;left:-0.88px;top:85.95px;width:12px;font-size:3px;line-height:3.45px;color:#999;text-align:center;white-space:nowrap">8</div><div style="position:absolute;left:13.37px;top:85.07px;width:50px;font-size:3.1px;line-height:5.2px;color:#333;text-align:left;white-space:nowrap">Backfilling</div><div style="position:absolute;left:37.99px;top:85.89px;width:60px;font-size:3.1px;line-height:3.56px;color:#6a6a6a;text-align:center;white-space:nowrap">2019/5/3</div><div style="position:absolute;left:61.75px;top:85.89px;width:60px;font-size:3.1px;line-height:3.56px;color:#6a6a6a;text-align:center;white-space:nowrap">2019/6/24</div><div style="position:absolute;left:86.07px;top:85.89px;width:60px;font-size:3.1px;line-height:3.56px;color:#6a6a6a;text-align:center;white-space:nowrap">37.0 d.</div><div style="position:absolute;left:111.11px;top:85.89px;width:60px;font-size:3.1px;line-height:3.56px;color:#6a6a6a;text-align:center;white-space:nowrap">0.0%</div><div style="position:absolute;left:-0.88px;top:94.48px;width:12px;font-size:3px;line-height:3.45px;color:#999;text-align:center;white-space:nowrap">9</div><div style="position:absolute;left:13.37px;top:93.61px;width:50px;font-size:3.1px;line-height:5.2px;color:#6a6a6a;text-align:left;white-space:nowrap">Basic acceptance</div><div style="position:absolute;left:37.99px;top:94.42px;width:60px;font-size:3.1px;line-height:3.56px;color:#6a6a6a;text-align:center;white-space:nowrap">2019/6/12</div><div style="position:absolute;left:61.75px;top:94.42px;width:60px;font-size:3.1px;line-height:3.56px;color:#6a6a6a;text-align:center;white-space:nowrap">2019/6/11</div><div style="position:absolute;left:86.07px;top:94.42px;width:60px;font-size:3.1px;line-height:3.56px;color:#6a6a6a;text-align:center;white-space:nowrap">3.0 d.</div><div style="position:absolute;left:111.11px;top:94.42px;width:60px;font-size:3.1px;line-height:3.56px;color:#6a6a6a;text-align:center;white-space:nowrap">0.0%</div><div style="position:absolute;left:-0.88px;top:103.02px;width:12px;font-size:3px;line-height:3.45px;color:#999;text-align:center;white-space:nowrap">10</div><div style="position:absolute;left:13.37px;top:102.14px;width:50px;font-size:3.1px;line-height:5.2px;color:#6a6a6a;text-align:left;white-space:nowrap">Main construction</div><div style="position:absolute;left:37.99px;top:102.96px;width:60px;font-size:3.1px;line-height:3.56px;color:#6a6a6a;text-align:center;white-space:nowrap">2019/6/12</div><div style="position:absolute;left:61.75px;top:102.96px;width:60px;font-size:3.1px;line-height:3.56px;color:#6a6a6a;text-align:center;white-space:nowrap">2019/11/15</div><div style="position:absolute;left:86.07px;top:102.96px;width:60px;font-size:3.1px;line-height:3.56px;color:#6a6a6a;text-align:center;white-space:nowrap">113.0 d.</div><div style="position:absolute;left:111.11px;top:102.96px;width:60px;font-size:3.1px;line-height:3.56px;color:#6a6a6a;text-align:center;white-space:nowrap">0.0%</div><div style="position:absolute;left:-0.88px;top:111.41px;width:12px;font-size:3px;line-height:3.45px;color:#999;text-align:center;white-space:nowrap">11</div><div style="position:absolute;left:13.37px;top:110.53px;width:50px;font-size:3.1px;line-height:5.2px;color:#6a6a6a;text-align:left;white-space:nowrap">Main decoration</div><div style="position:absolute;left:37.99px;top:111.35px;width:60px;font-size:3.1px;line-height:3.56px;color:#6a6a6a;text-align:center;white-space:nowrap">2019/10/4</div><div style="position:absolute;left:61.75px;top:111.35px;width:60px;font-size:3.1px;line-height:3.56px;color:#6a6a6a;text-align:center;white-space:nowrap">2019/10/17</div><div style="position:absolute;left:86.07px;top:111.35px;width:60px;font-size:3.1px;line-height:3.56px;color:#6a6a6a;text-align:center;white-space:nowrap">10.0 d.</div><div style="position:absolute;left:111.11px;top:111.35px;width:60px;font-size:3.1px;line-height:3.56px;color:#6a6a6a;text-align:center;white-space:nowrap">0.0%</div><div style="position:absolute;left:-0.88px;top:119.8px;width:12px;font-size:3px;line-height:3.45px;color:#999;text-align:center;white-space:nowrap">12</div><div style="position:absolute;left:13.37px;top:118.93px;width:50px;font-size:3.1px;line-height:5.2px;color:#6a6a6a;text-align:left;white-space:nowrap">Main acceptance</div><div style="position:absolute;left:37.99px;top:119.74px;width:60px;font-size:3.1px;line-height:3.56px;color:#6a6a6a;text-align:center;white-space:nowrap">2019/10/11</div><div style="position:absolute;left:61.75px;top:119.74px;width:60px;font-size:3.1px;line-height:3.56px;color:#6a6a6a;text-align:center;white-space:nowrap">2019/10/17</div><div style="position:absolute;left:86.07px;top:119.74px;width:60px;font-size:3.1px;line-height:3.56px;color:#6a6a6a;text-align:center;white-space:nowrap">5.0 d.</div><div style="position:absolute;left:111.11px;top:119.74px;width:60px;font-size:3.1px;line-height:3.56px;color:#6a6a6a;text-align:center;white-space:nowrap">0.0%</div><div style="position:absolute;left:-0.88px;top:128.34px;width:12px;font-size:3px;line-height:3.45px;color:#999;text-align:center;white-space:nowrap">13</div><div style="position:absolute;left:13.37px;top:127.46px;width:50px;font-size:3.1px;line-height:5.2px;color:#333;text-align:left;white-space:nowrap">Infilled wall masonry</div><div style="position:absolute;left:37.99px;top:128.28px;width:60px;font-size:3.1px;line-height:3.56px;color:#6a6a6a;text-align:center;white-space:nowrap">2019/10/17</div><div style="position:absolute;left:61.75px;top:128.28px;width:60px;font-size:3.1px;line-height:3.56px;color:#6a6a6a;text-align:center;white-space:nowrap">2020/2/6</div><div style="position:absolute;left:86.07px;top:128.28px;width:60px;font-size:3.1px;line-height:3.56px;color:#6a6a6a;text-align:center;white-space:nowrap">80.0 d.</div><div style="position:absolute;left:111.11px;top:128.28px;width:60px;font-size:3.1px;line-height:3.56px;color:#6a6a6a;text-align:center;white-space:nowrap">0.0%</div><div style="position:absolute;left:-0.88px;top:138.72px;width:12px;font-size:3px;line-height:3.45px;color:#999;text-align:center;white-space:nowrap">14</div><div style="position:absolute;left:13.37px;top:135.24px;width:50px;font-size:3.1px;line-height:5.2px;color:#6a6a6a;text-align:left;white-space:nowrap">Interior and exterior wall<br>decoration</div><div style="position:absolute;left:37.99px;top:138.66px;width:60px;font-size:3.1px;line-height:3.56px;color:#6a6a6a;text-align:center;white-space:nowrap">2020/1/3</div><div style="position:absolute;left:61.75px;top:138.66px;width:60px;font-size:3.1px;line-height:3.56px;color:#6a6a6a;text-align:center;white-space:nowrap">2020/5/13</div><div style="position:absolute;left:86.07px;top:138.66px;width:60px;font-size:3.1px;line-height:3.56px;color:#6a6a6a;text-align:center;white-space:nowrap">94.0 d.</div><div style="position:absolute;left:111.11px;top:138.66px;width:60px;font-size:3.1px;line-height:3.56px;color:#6a6a6a;text-align:center;white-space:nowrap">0.0%</div><div style="position:absolute;left:-0.88px;top:149.25px;width:12px;font-size:3px;line-height:3.45px;color:#999;text-align:center;white-space:nowrap">15</div><div style="position:absolute;left:13.37px;top:148.37px;width:50px;font-size:3.1px;line-height:5.2px;color:#6a6a6a;text-align:left;white-space:nowrap">Floor engineering</div><div style="position:absolute;left:37.99px;top:149.19px;width:60px;font-size:3.1px;line-height:3.56px;color:#6a6a6a;text-align:center;white-space:nowrap">2020/3/24</div><div style="position:absolute;left:61.75px;top:149.19px;width:60px;font-size:3.1px;line-height:3.56px;color:#6a6a6a;text-align:center;white-space:nowrap">2020/4/23</div><div style="position:absolute;left:86.07px;top:149.19px;width:60px;font-size:3.1px;line-height:3.56px;color:#6a6a6a;text-align:center;white-space:nowrap">45.0 d.</div><div style="position:absolute;left:111.11px;top:149.19px;width:60px;font-size:3.1px;line-height:3.56px;color:#6a6a6a;text-align:center;white-space:nowrap">0.0%</div><div style="position:absolute;left:-0.88px;top:157.92px;width:12px;font-size:3px;line-height:3.45px;color:#999;text-align:center;white-space:nowrap">16</div><div style="position:absolute;left:13.37px;top:157.05px;width:50px;font-size:3.1px;line-height:5.2px;color:#6a6a6a;text-align:left;white-space:nowrap">Door and window installation</div><div style="position:absolute;left:37.99px;top:157.87px;width:60px;font-size:3.1px;line-height:3.56px;color:#6a6a6a;text-align:center;white-space:nowrap">2020/3/2</div><div style="position:absolute;left:61.75px;top:157.87px;width:60px;font-size:3.1px;line-height:3.56px;color:#6a6a6a;text-align:center;white-space:nowrap">2020/5/29</div><div style="position:absolute;left:86.07px;top:157.87px;width:60px;font-size:3.1px;line-height:3.56px;color:#6a6a6a;text-align:center;white-space:nowrap">65.0 d.</div><div style="position:absolute;left:111.11px;top:157.87px;width:60px;font-size:3.1px;line-height:3.56px;color:#6a6a6a;text-align:center;white-space:nowrap">0.0%</div><div style="position:absolute;left:-0.88px;top:166.32px;width:12px;font-size:3px;line-height:3.45px;color:#999;text-align:center;white-space:nowrap">17</div><div style="position:absolute;left:13.37px;top:165.44px;width:50px;font-size:3.1px;line-height:5.2px;color:#6a6a6a;text-align:left;white-space:nowrap">Paint</div><div style="position:absolute;left:37.99px;top:166.26px;width:60px;font-size:3.1px;line-height:3.56px;color:#6a6a6a;text-align:center;white-space:nowrap">2020/4/6</div><div style="position:absolute;left:61.75px;top:166.26px;width:60px;font-size:3.1px;line-height:3.56px;color:#6a6a6a;text-align:center;white-space:nowrap">2020/5/29</div><div style="position:absolute;left:86.07px;top:166.26px;width:60px;font-size:3.1px;line-height:3.56px;color:#6a6a6a;text-align:center;white-space:nowrap">40.0 d.</div><div style="position:absolute;left:111.11px;top:166.26px;width:60px;font-size:3.1px;line-height:3.56px;color:#6a6a6a;text-align:center;white-space:nowrap">0.0%</div><div style="position:absolute;left:-0.88px;top:174.42px;width:12px;font-size:3px;line-height:3.45px;color:#999;text-align:center;white-space:nowrap">18</div><div style="position:absolute;left:13.37px;top:173.55px;width:50px;font-size:3.1px;line-height:5.2px;color:#6a6a6a;text-align:left;white-space:nowrap">Elevator installation</div><div style="position:absolute;left:37.99px;top:174.37px;width:60px;font-size:3.1px;line-height:3.56px;color:#6a6a6a;text-align:center;white-space:nowrap">2020/5/13</div><div style="position:absolute;left:61.75px;top:174.37px;width:60px;font-size:3.1px;line-height:3.56px;color:#6a6a6a;text-align:center;white-space:nowrap">2020/6/5</div><div style="position:absolute;left:86.07px;top:174.37px;width:60px;font-size:3.1px;line-height:3.56px;color:#6a6a6a;text-align:center;white-space:nowrap">18.0 d.</div><div style="position:absolute;left:111.11px;top:174.37px;width:60px;font-size:3.1px;line-height:3.56px;color:#6a6a6a;text-align:center;white-space:nowrap">0.0%</div><div style="position:absolute;left:-0.88px;top:182.96px;width:12px;font-size:3px;line-height:3.45px;color:#999;text-align:center;white-space:nowrap">19</div><div style="position:absolute;left:13.37px;top:182.08px;width:50px;font-size:3.1px;line-height:5.2px;color:#6a6a6a;text-align:left;white-space:nowrap">Water facilities installation</div><div style="position:absolute;left:37.99px;top:182.9px;width:60px;font-size:3.1px;line-height:3.56px;color:#6a6a6a;text-align:center;white-space:nowrap">2020/6/1</div><div style="position:absolute;left:61.75px;top:182.9px;width:60px;font-size:3.1px;line-height:3.56px;color:#6a6a6a;text-align:center;white-space:nowrap">2020/7/3</div><div style="position:absolute;left:86.07px;top:182.9px;width:60px;font-size:3.1px;line-height:3.56px;color:#6a6a6a;text-align:center;white-space:nowrap">25.0 d.</div><div style="position:absolute;left:111.11px;top:182.9px;width:60px;font-size:3.1px;line-height:3.56px;color:#6a6a6a;text-align:center;white-space:nowrap">0.0%</div><div style="position:absolute;left:-0.88px;top:193.63px;width:12px;font-size:3px;line-height:3.45px;color:#999;text-align:center;white-space:nowrap">20</div><div style="position:absolute;left:13.37px;top:190.15px;width:50px;font-size:3.1px;line-height:5.2px;color:#6a6a6a;text-align:left;white-space:nowrap">Electrical installation and<br>commissioning</div><div style="position:absolute;left:37.99px;top:193.57px;width:60px;font-size:3.1px;line-height:3.56px;color:#6a6a6a;text-align:center;white-space:nowrap">2020/6/24</div><div style="position:absolute;left:61.75px;top:193.57px;width:60px;font-size:3.1px;line-height:3.56px;color:#6a6a6a;text-align:center;white-space:nowrap">2020/8/12</div><div style="position:absolute;left:86.07px;top:193.57px;width:60px;font-size:3.1px;line-height:3.56px;color:#6a6a6a;text-align:center;white-space:nowrap">36.0 d.</div><div style="position:absolute;left:111.11px;top:193.57px;width:60px;font-size:3.1px;line-height:3.56px;color:#6a6a6a;text-align:center;white-space:nowrap">0.0%</div><div style="position:absolute;left:155.62px;top:18.43px;width:6.54px;height:2.4px;background:#fbd27a"></div><div style="position:absolute;left:155.62px;top:18.43px;width:3.7px;height:2.4px;background:#f4504e"></div><div style="position:absolute;left:160.74px;top:26.97px;width:17.35px;height:2.4px;background:#fbd27a"></div><div style="position:absolute;left:160.74px;top:26.97px;width:11.95px;height:2.4px;background:#f4504e"></div><div style="position:absolute;left:160.74px;top:35.5px;width:98.15px;height:2.4px;background:#fbd27a"></div><div style="position:absolute;left:160.74px;top:35.5px;width:69.13px;height:2.4px;background:#f4504e"></div><div style="position:absolute;left:175.82px;top:45.74px;width:5.41px;height:2.4px;background:#fbd27a"></div><div style="position:absolute;left:175.82px;top:45.74px;width:3.98px;height:2.4px;background:#f4504e"></div><div style="position:absolute;left:179.8px;top:56.27px;width:2.28px;height:2.4px;background:#f4504e"></div><div style="position:absolute;left:182.08px;top:64.8px;width:21.34px;height:2.4px;background:#fbd27a"></div><div style="position:absolute;left:182.08px;top:64.8px;width:15.08px;height:2.4px;background:#f4504e"></div><div style="position:absolute;left:188.34px;top:75.04px;width:5.69px;height:2.4px;background:#fbd27a"></div><div style="position:absolute;left:188.34px;top:75.04px;width:3.7px;height:2.4px;background:#f4504e"></div><div style="position:absolute;left:190.61px;top:85.57px;width:9.1px;height:2.4px;background:#fbd27a"></div><div style="position:absolute;left:190.61px;top:85.57px;width:6.26px;height:2.4px;background:#f4504e"></div><div style="position:absolute;left:196.87px;top:94.11px;width:0.57px;height:2.4px;background:#f4504e"></div><div style="position:absolute;left:197.44px;top:102.64px;width:26.74px;height:2.4px;background:#fbd27a"></div><div style="position:absolute;left:197.44px;top:102.64px;width:18.78px;height:2.4px;background:#f4504e"></div><div style="position:absolute;left:216.79px;top:110.89px;width:2.28px;height:2.4px;background:#f4504e"></div><div style="position:absolute;left:217.92px;top:119.43px;width:1.14px;height:2.4px;background:#f4504e"></div><div style="position:absolute;left:219.06px;top:127.96px;width:19.35px;height:2.4px;background:#fbd27a"></div><div style="position:absolute;left:219.06px;top:127.96px;width:13.37px;height:2.4px;background:#f4504e"></div><div style="position:absolute;left:232.43px;top:138.2px;width:22.76px;height:2.4px;background:#fbd27a"></div><div style="position:absolute;left:232.43px;top:138.2px;width:15.93px;height:2.4px;background:#f4504e"></div><div style="position:absolute;left:241.82px;top:149.01px;width:9.96px;height:2.4px;background:#fbd27a"></div><div style="position:absolute;left:241.82px;top:149.01px;width:7.4px;height:2.4px;background:#f4504e"></div><div style="position:absolute;left:242.39px;top:157.55px;width:15.65px;height:2.4px;background:#fbd27a"></div><div style="position:absolute;left:242.39px;top:157.55px;width:11.66px;height:2.4px;background:#f4504e"></div><div style="position:absolute;left:248.36px;top:165.8px;width:9.39px;height:2.4px;background:#fbd27a"></div><div style="position:absolute;left:248.36px;top:165.8px;width:6.83px;height:2.4px;background:#f4504e"></div><div style="position:absolute;left:255.48px;top:174.05px;width:2.56px;height:2.4px;background:#f4504e"></div><div style="position:absolute;left:257.75px;top:182.58px;width:5.41px;height:2.4px;background:#fbd27a"></div><div style="position:absolute;left:257.75px;top:182.58px;width:3.41px;height:2.4px;background:#f4504e"></div><div style="position:absolute;left:262.3px;top:193.11px;width:9.67px;height:2.4px;background:#fbd27a"></div><div style="position:absolute;left:262.3px;top:193.11px;width:6.54px;height:2.4px;background:#f4504e"></div></div>

<div class="cap" id="cap1" style="left:102.9px">Gantt chart of construction sche…</div>
<div class="card" style="left:432.4px;width:315.4px"></div>
<div style="position:absolute;left:445.07px;top:689.95px;width:290.75px;height:152.77px;background:#fff;overflow:hidden;font-family:'DejaVu Sans',sans-serif;filter:blur(0.3px)"><div style="position:absolute;left:0.6px;top:0.6px;width:289.55px;height:16.47px;background:#5cc6ca"></div><div style="position:absolute;left:35.09px;top:4.42px;width:220px;font-size:7.9px;line-height:9.08px;color:#ffffff;text-align:center;white-space:nowrap;font-weight:bold;font-family:'Liberation Sans',sans-serif;letter-spacing:0.02px;">Home Decoration Construction Gantt Chart</div><div style="position:absolute;left:0px;top:17.35px;width:290.75px;height:11.1px;background:#f1f1f1"></div><div style="position:absolute;left:0px;top:28.05px;width:290.75px;height:0.8px;background:#e6e6e6"></div><div style="position:absolute;left:0px;top:36.58px;width:290.75px;height:0.8px;background:#e6e6e6"></div><div style="position:absolute;left:0px;top:55.65px;width:290.75px;height:0.8px;background:#e6e6e6"></div><div style="position:absolute;left:0px;top:70.72px;width:290.75px;height:0.8px;background:#e6e6e6"></div><div style="position:absolute;left:0px;top:85.52px;width:290.75px;height:0.8px;background:#e6e6e6"></div><div style="position:absolute;left:0px;top:103.44px;width:290.75px;height:0.8px;background:#e6e6e6"></div><div style="position:absolute;left:0px;top:118.23px;width:290.75px;height:0.8px;background:#e6e6e6"></div><div style="position:absolute;left:0px;top:128.19px;width:290.75px;height:0.8px;background:#e6e6e6"></div><div style="position:absolute;left:0px;top:142.42px;width:290.75px;height:0.8px;background:#e6e6e6"></div><div style="position:absolute;left:13.36px;top:17.35px;width:0.6px;height:135.42px;background:#f5f5f5"></div><div style="position:absolute;left:62.86px;top:17.35px;width:0.6px;height:135.42px;background:#f5f5f5"></div><div style="position:absolute;left:88.46px;top:17.35px;width:0.6px;height:135.42px;background:#f5f5f5"></div><div style="position:absolute;left:114.92px;top:17.35px;width:0.6px;height:135.42px;background:#f5f5f5"></div><div style="position:absolute;left:136.26px;top:17.35px;width:0.6px;height:135.42px;background:#f5f5f5"></div><div style="position:absolute;left:158.82px;top:17.35px;width:1px;height:135.42px;background:#cfcfcf"></div><div style="position:absolute;left:-23.17px;top:20.86px;width:60px;font-size:3.3px;line-height:3.79px;color:#fafafa;text-align:center;white-space:nowrap;font-weight:bold;">ID</div><div style="position:absolute;left:8.41px;top:20.86px;width:60px;font-size:3.3px;line-height:3.79px;color:#fafafa;text-align:center;white-space:nowrap;font-weight:bold;">Task name</div><div style="position:absolute;left:45.96px;top:20.86px;width:60px;font-size:3.3px;line-height:3.79px;color:#fafafa;text-align:center;white-space:nowrap;font-weight:bold;">Start</div><div style="position:absolute;left:71.99px;top:20.86px;width:60px;font-size:3.3px;line-height:3.79px;color:#fafafa;text-align:center;white-space:nowrap;font-weight:bold;">Finish</div><div style="position:absolute;left:95.89px;top:20.86px;width:60px;font-size:3.3px;line-height:3.79px;color:#fafafa;text-align:center;white-space:nowrap;font-weight:bold;">Duration</div><div style="position:absolute;left:117.94px;top:20.86px;width:60px;font-size:3.3px;line-height:3.79px;color:#fafafa;text-align:center;white-space:nowrap;font-weight:bold;">Complete</div><div style="position:absolute;left:155.58px;top:20.69px;width:20px;font-size:3.1px;line-height:3.56px;color:#8d8d8d;text-align:center;white-space:nowrap;">2024</div><div style="position:absolute;left:155.58px;top:25.13px;width:20px;font-size:2.8px;line-height:3.22px;color:#a0a0a0;text-align:center;white-space:nowrap;">3</div><div style="position:absolute;left:168.55px;top:20.69px;width:20px;font-size:3.1px;line-height:3.56px;color:#8d8d8d;text-align:center;white-space:nowrap;">2024</div><div style="position:absolute;left:168.55px;top:25.13px;width:20px;font-size:2.8px;line-height:3.22px;color:#a0a0a0;text-align:center;white-space:nowrap;">4</div><div style="position:absolute;left:181.52px;top:20.69px;width:20px;font-size:3.1px;line-height:3.56px;color:#8d8d8d;text-align:center;white-space:nowrap;">2024</div><div style="position:absolute;left:181.52px;top:25.13px;width:20px;font-size:2.8px;line-height:3.22px;color:#a0a0a0;text-align:center;white-space:nowrap;">5</div><div style="position:absolute;left:194.5px;top:20.69px;width:20px;font-size:3.1px;line-height:3.56px;color:#8d8d8d;text-align:center;white-space:nowrap;">2024</div><div style="position:absolute;left:194.5px;top:25.13px;width:20px;font-size:2.8px;line-height:3.22px;color:#a0a0a0;text-align:center;white-space:nowrap;">6</div><div style="position:absolute;left:207.47px;top:20.69px;width:20px;font-size:3.1px;line-height:3.56px;color:#8d8d8d;text-align:center;white-space:nowrap;">2024</div><div style="position:absolute;left:207.47px;top:25.13px;width:20px;font-size:2.8px;line-height:3.22px;color:#a0a0a0;text-align:center;white-space:nowrap;">7</div><div style="position:absolute;left:220.44px;top:20.69px;width:20px;font-size:3.1px;line-height:3.56px;color:#8d8d8d;text-align:center;white-space:nowrap;">2024</div><div style="position:absolute;left:220.44px;top:25.13px;width:20px;font-size:2.8px;line-height:3.22px;color:#a0a0a0;text-align:center;white-space:nowrap;">8</div><div style="position:absolute;left:233.41px;top:20.69px;width:20px;font-size:3.1px;line-height:3.56px;color:#8d8d8d;text-align:center;white-space:nowrap;">2024</div><div style="position:absolute;left:233.41px;top:25.13px;width:20px;font-size:2.8px;line-height:3.22px;color:#a0a0a0;text-align:center;white-space:nowrap;">9</div><div style="position:absolute;left:246.39px;top:20.69px;width:20px;font-size:3.1px;line-height:3.56px;color:#8d8d8d;text-align:center;white-space:nowrap;">2024</div><div style="position:absolute;left:246.39px;top:25.13px;width:20px;font-size:2.8px;line-height:3.22px;color:#a0a0a0;text-align:center;white-space:nowrap;">10</div><div style="position:absolute;left:259.36px;top:20.69px;width:20px;font-size:3.1px;line-height:3.56px;color:#8d8d8d;text-align:center;white-space:nowrap;">2024</div><div style="position:absolute;left:259.36px;top:25.13px;width:20px;font-size:2.8px;line-height:3.22px;color:#a0a0a0;text-align:center;white-space:nowrap;">11</div><div style="position:absolute;left:272.33px;top:20.69px;width:20px;font-size:3.1px;line-height:3.56px;color:#8d8d8d;text-align:center;white-space:nowrap;">2024</div><div style="position:absolute;left:272.33px;top:25.13px;width:20px;font-size:2.8px;line-height:3.22px;color:#a0a0a0;text-align:center;white-space:nowrap;">12</div><div style="position:absolute;left:0.83px;top:31.38px;width:12px;font-size:3.2px;line-height:3.68px;color:#999;text-align:center;white-space:nowrap;">1</div><div style="position:absolute;left:16.5px;top:30.67px;width:50px;font-size:3.2px;line-height:5.1px;color:#5a5a5a;text-align:left;white-space:nowrap;">Basement main project</div><div style="position:absolute;left:45.96px;top:31.32px;width:60px;font-size:3.3px;line-height:3.79px;color:#555;text-align:center;white-space:nowrap;">2024-04-15</div><div style="position:absolute;left:71.99px;top:31.32px;width:60px;font-size:3.3px;line-height:3.79px;color:#555;text-align:center;white-space:nowrap;">2024-05-15</div><div style="position:absolute;left:95.89px;top:31.32px;width:60px;font-size:3.3px;line-height:3.79px;color:#555;text-align:center;white-space:nowrap;">22.0 d.</div><div style="position:absolute;left:117.94px;top:31.32px;width:60px;font-size:3.3px;line-height:3.79px;color:#555;text-align:center;white-space:nowrap;">63.5%</div><div style="position:absolute;left:0.83px;top:45.17px;width:12px;font-size:3.2px;line-height:3.68px;color:#999;text-align:center;white-space:nowrap;">2</div><div style="position:absolute;left:16.5px;top:39.36px;width:50px;font-size:3.2px;line-height:5.1px;color:#5a5a5a;text-align:left;white-space:nowrap;">Main concrete structure<br>project on the 1st and 2nd<br>floors</div><div style="position:absolute;left:45.96px;top:45.12px;width:60px;font-size:3.3px;line-height:3.79px;color:#555;text-align:center;white-space:nowrap;">2024-05-15</div><div style="position:absolute;left:71.99px;top:45.12px;width:60px;font-size:3.3px;line-height:3.79px;color:#555;text-align:center;white-space:nowrap;">2024-06-17</div><div style="position:absolute;left:95.89px;top:45.12px;width:60px;font-size:3.3px;line-height:3.79px;color:#555;text-align:center;white-space:nowrap;">24.0 d.</div><div style="position:absolute;left:117.94px;top:45.12px;width:60px;font-size:3.3px;line-height:3.79px;color:#555;text-align:center;white-space:nowrap;">10.0%</div><div style="position:absolute;left:0.83px;top:62.24px;width:12px;font-size:3.2px;line-height:3.68px;color:#999;text-align:center;white-space:nowrap;">3</div><div style="position:absolute;left:16.5px;top:58.98px;width:50px;font-size:3.2px;line-height:5.1px;color:#5a5a5a;text-align:left;white-space:nowrap;">Roofing works on the 1st<br>and 2nd floors</div><div style="position:absolute;left:45.96px;top:62.19px;width:60px;font-size:3.3px;line-height:3.79px;color:#555;text-align:center;white-space:nowrap;">2024-06-17</div><div style="position:absolute;left:71.99px;top:62.19px;width:60px;font-size:3.3px;line-height:3.79px;color:#555;text-align:center;white-space:nowrap;">2024-07-15</div><div style="position:absolute;left:95.89px;top:62.19px;width:60px;font-size:3.3px;line-height:3.79px;color:#555;text-align:center;white-space:nowrap;">21.0 d.</div><div style="position:absolute;left:117.94px;top:62.19px;width:60px;font-size:3.3px;line-height:3.79px;color:#555;text-align:center;white-space:nowrap;">10.9%</div><div style="position:absolute;left:0.83px;top:77.18px;width:12px;font-size:3.2px;line-height:3.68px;color:#999;text-align:center;white-space:nowrap;">4</div><div style="position:absolute;left:16.5px;top:73.92px;width:50px;font-size:3.2px;line-height:5.1px;color:#5a5a5a;text-align:left;white-space:nowrap;">Masonry work on the 1st<br>and 2nd floors</div><div style="position:absolute;left:45.96px;top:77.12px;width:60px;font-size:3.3px;line-height:3.79px;color:#555;text-align:center;white-space:nowrap;">2024-07-16</div><div style="position:absolute;left:71.99px;top:77.12px;width:60px;font-size:3.3px;line-height:3.79px;color:#555;text-align:center;white-space:nowrap;">2024-08-15</div><div style="position:absolute;left:95.89px;top:77.12px;width:60px;font-size:3.3px;line-height:3.79px;color:#555;text-align:center;white-space:nowrap;">20.0 d.</div><div style="position:absolute;left:117.94px;top:77.12px;width:60px;font-size:3.3px;line-height:3.79px;color:#555;text-align:center;white-space:nowrap;">12.5%</div><div style="position:absolute;left:0.83px;top:93.54px;width:12px;font-size:3.2px;line-height:3.68px;color:#999;text-align:center;white-space:nowrap;">5</div><div style="position:absolute;left:16.5px;top:87.73px;width:50px;font-size:3.2px;line-height:5.1px;color:#5a5a5a;text-align:left;white-space:nowrap;">Exterior wall plastering<br>work on the 1st and 2nd<br>floors</div><div style="position:absolute;left:45.96px;top:93.48px;width:60px;font-size:3.3px;line-height:3.79px;color:#555;text-align:center;white-space:nowrap;">2024-08-16</div><div style="position:absolute;left:71.99px;top:93.48px;width:60px;font-size:3.3px;line-height:3.79px;color:#555;text-align:center;white-space:nowrap;">2024-09-09</div><div style="position:absolute;left:95.89px;top:93.48px;width:60px;font-size:3.3px;line-height:3.79px;color:#555;text-align:center;white-space:nowrap;">20.0 d.</div><div style="position:absolute;left:117.94px;top:93.48px;width:60px;font-size:3.3px;line-height:3.79px;color:#555;text-align:center;white-space:nowrap;">12.5%</div><div style="position:absolute;left:0.83px;top:109.9px;width:12px;font-size:3.2px;line-height:3.68px;color:#999;text-align:center;white-space:nowrap;">6</div><div style="position:absolute;left:16.5px;top:106.64px;width:50px;font-size:3.2px;line-height:5.1px;color:#5a5a5a;text-align:left;white-space:nowrap;">Interior decoration works<br>on the 1st and 2nd floors</div><div style="position:absolute;left:45.96px;top:109.84px;width:60px;font-size:3.3px;line-height:3.79px;color:#555;text-align:center;white-space:nowrap;">2024-09-09</div><div style="position:absolute;left:71.99px;top:109.84px;width:60px;font-size:3.3px;line-height:3.79px;color:#555;text-align:center;white-space:nowrap;">2024-11-17</div><div style="position:absolute;left:95.89px;top:109.84px;width:60px;font-size:3.3px;line-height:3.79px;color:#555;text-align:center;white-space:nowrap;">50.0 d.</div><div style="position:absolute;left:117.94px;top:109.84px;width:60px;font-size:3.3px;line-height:3.79px;color:#555;text-align:center;white-space:nowrap;">5.0%</div><div style="position:absolute;left:0.83px;top:122.27px;width:12px;font-size:3.2px;line-height:3.68px;color:#999;text-align:center;white-space:nowrap;">7</div><div style="position:absolute;left:16.5px;top:121.56px;width:50px;font-size:3.2px;line-height:5.1px;color:#5a5a5a;text-align:left;white-space:nowrap;">Scaffolding project</div><div style="position:absolute;left:45.96px;top:122.22px;width:60px;font-size:3.3px;line-height:3.79px;color:#555;text-align:center;white-space:nowrap;">2024-11-17</div><div style="position:absolute;left:71.99px;top:122.22px;width:60px;font-size:3.3px;line-height:3.79px;color:#555;text-align:center;white-space:nowrap;">2024-12-14</div><div style="position:absolute;left:95.89px;top:122.22px;width:60px;font-size:3.3px;line-height:3.79px;color:#555;text-align:center;white-space:nowrap;">20.0 d.</div><div style="position:absolute;left:117.94px;top:122.22px;width:60px;font-size:3.3px;line-height:3.79px;color:#555;text-align:center;white-space:nowrap;">12.5%</div><div style="position:absolute;left:0.83px;top:134.36px;width:12px;font-size:3.2px;line-height:3.68px;color:#999;text-align:center;white-space:nowrap;">8</div><div style="position:absolute;left:16.5px;top:131.1px;width:50px;font-size:3.2px;line-height:5.1px;color:#5a5a5a;text-align:left;white-space:nowrap;">Water and electricity<br>installation project</div><div style="position:absolute;left:45.96px;top:134.31px;width:60px;font-size:3.3px;line-height:3.79px;color:#555;text-align:center;white-space:nowrap;">2024-12-14</div><div style="position:absolute;left:71.99px;top:134.31px;width:60px;font-size:3.3px;line-height:3.79px;color:#555;text-align:center;white-space:nowrap;">2025-01-05</div><div style="position:absolute;left:95.89px;top:134.31px;width:60px;font-size:3.3px;line-height:3.79px;color:#555;text-align:center;white-space:nowrap;">15.0 d.</div><div style="position:absolute;left:117.94px;top:134.31px;width:60px;font-size:3.3px;line-height:3.79px;color:#555;text-align:center;white-space:nowrap;">16.7%</div><div style="position:absolute;left:0.83px;top:146.46px;width:12px;font-size:3.2px;line-height:3.68px;color:#999;text-align:center;white-space:nowrap;">9</div><div style="position:absolute;left:16.5px;top:145.75px;width:50px;font-size:3.2px;line-height:5.1px;color:#5a5a5a;text-align:left;white-space:nowrap;">Completion acceptance</div><div style="position:absolute;left:45.96px;top:146.4px;width:60px;font-size:3.3px;line-height:3.79px;color:#555;text-align:center;white-space:nowrap;">2025-01-05</div><div style="position:absolute;left:71.99px;top:146.4px;width:60px;font-size:3.3px;line-height:3.79px;color:#555;text-align:center;white-space:nowrap;">2025-01-16</div><div style="position:absolute;left:95.89px;top:146.4px;width:60px;font-size:3.3px;line-height:3.79px;color:#555;text-align:center;white-space:nowrap;">10.0 d.</div><div style="position:absolute;left:117.94px;top:146.4px;width:60px;font-size:3.3px;line-height:3.79px;color:#555;text-align:center;white-space:nowrap;">25.0%</div><div style="position:absolute;left:165.86px;top:31.62px;width:12.8px;height:2.2px;background:#8fdcdc"></div><div style="position:absolute;left:165.86px;top:31.02px;width:6.26px;height:3.23px;background:#1fb2b6"></div><div style="position:absolute;left:178.09px;top:45.84px;width:14.51px;height:2.2px;background:#8fdcdc"></div><div style="position:absolute;left:178.09px;top:45.74px;width:1.14px;height:2.28px;background:#1fb2b6"></div><div style="position:absolute;left:192.32px;top:62.34px;width:13.37px;height:2.2px;background:#8fdcdc"></div><div style="position:absolute;left:192.32px;top:62.24px;width:1.71px;height:2.28px;background:#1fb2b6"></div><div style="position:absolute;left:205.69px;top:76.85px;width:11.38px;height:2.2px;background:#8fdcdc"></div><div style="position:absolute;left:205.69px;top:76.75px;width:1.42px;height:2.28px;background:#1fb2b6"></div><div style="position:absolute;left:217.07px;top:93.64px;width:11.1px;height:2.2px;background:#8fdcdc"></div><div style="position:absolute;left:217.07px;top:93.54px;width:0.85px;height:2.28px;background:#1fb2b6"></div><div style="position:absolute;left:228.17px;top:110.14px;width:29.3px;height:2.2px;background:#8fdcdc"></div><div style="position:absolute;left:228.17px;top:110.04px;width:1.71px;height:2.28px;background:#1fb2b6"></div><div style="position:absolute;left:257.47px;top:122.09px;width:11.66px;height:2.2px;background:#8fdcdc"></div><div style="position:absolute;left:257.47px;top:121.99px;width:1.99px;height:2.28px;background:#1fb2b6"></div><div style="position:absolute;left:268.56px;top:134.32px;width:9.1px;height:2.2px;background:#8fdcdc"></div><div style="position:absolute;left:268.56px;top:134.22px;width:1.14px;height:2.28px;background:#1fb2b6"></div><div style="position:absolute;left:276.81px;top:146.55px;width:6.26px;height:2.2px;background:#8fdcdc"></div><div style="position:absolute;left:276.81px;top:146.45px;width:1.42px;height:2.28px;background:#1fb2b6"></div></div>

<div class="cap" id="cap2" style="left:446.2px">Construction gantt chart</div>
<div class="card" style="left:776.3px"></div>
<div style="position:absolute;left:785.79px;top:709.01px;width:296.44px;height:120.91px;background:#fff;overflow:hidden;font-family:'DejaVu Sans',sans-serif;filter:blur(0.3px)"><div style="position:absolute;left:0.6px;top:0.6px;width:295.24px;height:11.63px;background:#8566ff"></div><div style="position:absolute;left:48.51px;top:3.24px;width:200px;font-size:5.5px;line-height:6.32px;color:#ffffff;text-align:center;white-space:nowrap;font-weight:bold;font-family:'Liberation Sans',sans-serif;">Home Decoration Construction Gantt Chart</div><div style="position:absolute;left:0px;top:12.23px;width:296.44px;height:7.11px;background:#efefef"></div><div style="position:absolute;left:118.92px;top:19.35px;width:7.4px;height:101.56px;background:#fef7f4"></div><div style="position:absolute;left:148.79px;top:19.35px;width:7.4px;height:101.56px;background:#fef7f4"></div><div style="position:absolute;left:177.81px;top:19.35px;width:7.4px;height:101.56px;background:#fef7f4"></div><div style="position:absolute;left:207.68px;top:19.35px;width:7.4px;height:101.56px;background:#fef7f4"></div><div style="position:absolute;left:236.98px;top:19.35px;width:7.4px;height:101.56px;background:#fef7f4"></div><div style="position:absolute;left:266.86px;top:19.35px;width:7.4px;height:101.56px;background:#fef7f4"></div><div style="position:absolute;left:0px;top:18.95px;width:296.44px;height:0.8px;background:#e4e4e4"></div><div style="position:absolute;left:0px;top:26.06px;width:296.44px;height:0.8px;background:#e4e4e4"></div><div style="position:absolute;left:0px;top:35.73px;width:296.44px;height:0.8px;background:#e4e4e4"></div><div style="position:absolute;left:0px;top:42.56px;width:296.44px;height:0.8px;background:#e4e4e4"></div><div style="position:absolute;left:0px;top:52.23px;width:296.44px;height:0.8px;background:#e4e4e4"></div><div style="position:absolute;left:0px;top:59.34px;width:296.44px;height:0.8px;background:#e4e4e4"></div><div style="position:absolute;left:0px;top:66.17px;width:296.44px;height:0.8px;background:#e4e4e4"></div><div style="position:absolute;left:0px;top:72.72px;width:296.44px;height:0.8px;background:#e4e4e4"></div><div style="position:absolute;left:0px;top:80.11px;width:296.44px;height:0.8px;background:#e4e4e4"></div><div style="position:absolute;left:0px;top:86.94px;width:296.44px;height:0.8px;background:#e4e4e4"></div><div style="position:absolute;left:0px;top:92.91px;width:296.44px;height:0.8px;background:#e4e4e4"></div><div style="position:absolute;left:0px;top:99.74px;width:296.44px;height:0.8px;background:#e4e4e4"></div><div style="position:absolute;left:0px;top:106.85px;width:296.44px;height:0.8px;background:#e4e4e4"></div><div style="position:absolute;left:0px;top:113.11px;width:296.44px;height:0.8px;background:#e4e4e4"></div><div style="position:absolute;left:109.03px;top:12.23px;width:1px;height:108.68px;background:#c4c4c4"></div><div style="position:absolute;left:107.81px;top:15.8px;width:8px;font-size:2.2px;line-height:2.53px;color:#707070;text-align:center;white-space:nowrap;">1</div><div style="position:absolute;left:112.03px;top:15.8px;width:8px;font-size:2.2px;line-height:2.53px;color:#707070;text-align:center;white-space:nowrap;">2</div><div style="position:absolute;left:116.26px;top:15.8px;width:8px;font-size:2.2px;line-height:2.53px;color:#707070;text-align:center;white-space:nowrap;">3</div><div style="position:absolute;left:120.48px;top:15.8px;width:8px;font-size:2.2px;line-height:2.53px;color:#707070;text-align:center;white-space:nowrap;">4</div><div style="position:absolute;left:124.71px;top:15.8px;width:8px;font-size:2.2px;line-height:2.53px;color:#707070;text-align:center;white-space:nowrap;">5</div><div style="position:absolute;left:128.93px;top:15.8px;width:8px;font-size:2.2px;line-height:2.53px;color:#707070;text-align:center;white-space:nowrap;">6</div><div style="position:absolute;left:133.16px;top:15.8px;width:8px;font-size:2.2px;line-height:2.53px;color:#707070;text-align:center;white-space:nowrap;">7</div><div style="position:absolute;left:137.38px;top:15.8px;width:8px;font-size:2.2px;line-height:2.53px;color:#707070;text-align:center;white-space:nowrap;">8</div><div style="position:absolute;left:141.6px;top:15.8px;width:8px;font-size:2.2px;line-height:2.53px;color:#707070;text-align:center;white-space:nowrap;">9</div><div style="position:absolute;left:145.83px;top:15.8px;width:8px;font-size:2.2px;line-height:2.53px;color:#707070;text-align:center;white-space:nowrap;">10</div><div style="position:absolute;left:150.05px;top:15.8px;width:8px;font-size:2.2px;line-height:2.53px;color:#707070;text-align:center;white-space:nowrap;">11</div><div style="position:absolute;left:154.28px;top:15.8px;width:8px;font-size:2.2px;line-height:2.53px;color:#707070;text-align:center;white-space:nowrap;">12</div><div style="position:absolute;left:158.5px;top:15.8px;width:8px;font-size:2.2px;line-height:2.53px;color:#707070;text-align:center;white-space:nowrap;">13</div><div style="position:absolute;left:162.73px;top:15.8px;width:8px;font-size:2.2px;line-height:2.53px;color:#707070;text-align:center;white-space:nowrap;">14</div><div style="position:absolute;left:166.95px;top:15.8px;width:8px;font-size:2.2px;line-height:2.53px;color:#707070;text-align:center;white-space:nowrap;">15</div><div style="position:absolute;left:171.18px;top:15.8px;width:8px;font-size:2.2px;line-height:2.53px;color:#707070;text-align:center;white-space:nowrap;">16</div><div style="position:absolute;left:175.4px;top:15.8px;width:8px;font-size:2.2px;line-height:2.53px;color:#707070;text-align:center;white-space:nowrap;">17</div><div style="position:absolute;left:179.63px;top:15.8px;width:8px;font-size:2.2px;line-height:2.53px;color:#707070;text-align:center;white-space:nowrap;">18</div><div style="position:absolute;left:183.85px;top:15.8px;width:8px;font-size:2.2px;line-height:2.53px;color:#707070;text-align:center;white-space:nowrap;">19</div><div style="position:absolute;left:188.08px;top:15.8px;width:8px;font-size:2.2px;line-height:2.53px;color:#707070;text-align:center;white-space:nowrap;">20</div><div style="position:absolute;left:192.3px;top:15.8px;width:8px;font-size:2.2px;line-height:2.53px;color:#707070;text-align:center;white-space:nowrap;">21</div><div style="position:absolute;left:196.53px;top:15.8px;width:8px;font-size:2.2px;line-height:2.53px;color:#707070;text-align:center;white-space:nowrap;">22</div><div style="position:absolute;left:200.75px;top:15.8px;width:8px;font-size:2.2px;line-height:2.53px;color:#707070;text-align:center;white-space:nowrap;">23</div><div style="position:absolute;left:204.98px;top:15.8px;width:8px;font-size:2.2px;line-height:2.53px;color:#707070;text-align:center;white-space:nowrap;">24</div><div style="position:absolute;left:209.2px;top:15.8px;width:8px;font-size:2.2px;line-height:2.53px;color:#707070;text-align:center;white-space:nowrap;">25</div><div style="position:absolute;left:213.43px;top:15.8px;width:8px;font-size:2.2px;line-height:2.53px;color:#707070;text-align:center;white-space:nowrap;">26</div><div style="position:absolute;left:217.65px;top:15.8px;width:8px;font-size:2.2px;line-height:2.53px;color:#707070;text-align:center;white-space:nowrap;">27</div><div style="position:absolute;left:221.87px;top:15.8px;width:8px;font-size:2.2px;line-height:2.53px;color:#707070;text-align:center;white-space:nowrap;">28</div><div style="position:absolute;left:226.1px;top:15.8px;width:8px;font-size:2.2px;line-height:2.53px;color:#707070;text-align:center;white-space:nowrap;">29</div><div style="position:absolute;left:230.32px;top:15.8px;width:8px;font-size:2.2px;line-height:2.53px;color:#707070;text-align:center;white-space:nowrap;">30</div><div style="position:absolute;left:234.55px;top:15.8px;width:8px;font-size:2.2px;line-height:2.53px;color:#707070;text-align:center;white-space:nowrap;">31</div><div style="position:absolute;left:238.77px;top:15.8px;width:8px;font-size:2.2px;line-height:2.53px;color:#707070;text-align:center;white-space:nowrap;">1</div><div style="position:absolute;left:243px;top:15.8px;width:8px;font-size:2.2px;line-height:2.53px;color:#707070;text-align:center;white-space:nowrap;">2</div><div style="position:absolute;left:247.22px;top:15.8px;width:8px;font-size:2.2px;line-height:2.53px;color:#707070;text-align:center;white-space:nowrap;">3</div><div style="position:absolute;left:251.45px;top:15.8px;width:8px;font-size:2.2px;line-height:2.53px;color:#707070;text-align:center;white-space:nowrap;">4</div><div style="position:absolute;left:255.67px;top:15.8px;width:8px;font-size:2.2px;line-height:2.53px;color:#707070;text-align:center;white-space:nowrap;">5</div><div style="position:absolute;left:259.9px;top:15.8px;width:8px;font-size:2.2px;line-height:2.53px;color:#707070;text-align:center;white-space:nowrap;">6</div><div style="position:absolute;left:264.12px;top:15.8px;width:8px;font-size:2.2px;line-height:2.53px;color:#707070;text-align:center;white-space:nowrap;">7</div><div style="position:absolute;left:268.35px;top:15.8px;width:8px;font-size:2.2px;line-height:2.53px;color:#707070;text-align:center;white-space:nowrap;">8</div><div style="position:absolute;left:272.57px;top:15.8px;width:8px;font-size:2.2px;line-height:2.53px;color:#707070;text-align:center;white-space:nowrap;">9</div><div style="position:absolute;left:276.8px;top:15.8px;width:8px;font-size:2.2px;line-height:2.53px;color:#707070;text-align:center;white-space:nowrap;">10</div><div style="position:absolute;left:281.02px;top:15.8px;width:8px;font-size:2.2px;line-height:2.53px;color:#707070;text-align:center;white-space:nowrap;">11</div><div style="position:absolute;left:285.25px;top:15.8px;width:8px;font-size:2.2px;line-height:2.53px;color:#707070;text-align:center;white-space:nowrap;">12</div><div style="position:absolute;left:289.47px;top:15.8px;width:8px;font-size:2.2px;line-height:2.53px;color:#707070;text-align:center;white-space:nowrap;">13</div><div style="position:absolute;left:160.25px;top:12.05px;width:30px;font-size:2.3px;line-height:2.64px;color:#999;text-align:center;white-space:nowrap;">2024 May</div><div style="position:absolute;left:253.85px;top:12.05px;width:30px;font-size:2.3px;line-height:2.64px;color:#999;text-align:center;white-space:nowrap;">Jun</div><div style="position:absolute;left:-0.45px;top:21.52px;width:10px;font-size:2.4px;line-height:2.76px;color:#999;text-align:center;white-space:nowrap;">1</div><div style="position:absolute;left:10.24px;top:21.6px;width:50px;font-size:2.3px;line-height:4px;color:#2a2a2a;text-align:left;white-space:nowrap;font-weight:bold;">Construction preparation</div><div style="position:absolute;left:38.64px;top:21.69px;width:24px;font-size:2.1px;line-height:2.42px;color:#666;text-align:center;white-space:nowrap;">2024-05-06</div><div style="position:absolute;left:58.55px;top:21.69px;width:24px;font-size:2.1px;line-height:2.42px;color:#666;text-align:center;white-space:nowrap;">2024-05-12</div><div style="position:absolute;left:74.77px;top:21.69px;width:24px;font-size:2.1px;line-height:2.42px;color:#666;text-align:center;white-space:nowrap;">5.0 d.</div><div style="position:absolute;left:89.85px;top:21.69px;width:24px;font-size:2.1px;line-height:2.42px;color:#666;text-align:center;white-space:nowrap;">20.0%</div><div style="position:absolute;left:-0.45px;top:29.91px;width:10px;font-size:2.4px;line-height:2.76px;color:#999;text-align:center;white-space:nowrap;">2</div><div style="position:absolute;left:13.66px;top:27.99px;width:50px;font-size:2.2px;line-height:4px;color:#555;text-align:left;white-space:nowrap;">Access to and positioning<br>of building</div><div style="position:absolute;left:38.64px;top:30.09px;width:24px;font-size:2.1px;line-height:2.42px;color:#666;text-align:center;white-space:nowrap;">2024-05-06</div><div style="position:absolute;left:58.55px;top:30.09px;width:24px;font-size:2.1px;line-height:2.42px;color:#666;text-align:center;white-space:nowrap;">2024-05-12</div><div style="position:absolute;left:74.77px;top:30.09px;width:24px;font-size:2.1px;line-height:2.42px;color:#666;text-align:center;white-space:nowrap;">5.0 d.</div><div style="position:absolute;left:89.85px;top:30.09px;width:24px;font-size:2.1px;line-height:2.42px;color:#666;text-align:center;white-space:nowrap;">20.0%</div><div style="position:absolute;left:-0.45px;top:38.16px;width:10px;font-size:2.4px;line-height:2.76px;color:#999;text-align:center;white-space:nowrap;">3</div><div style="position:absolute;left:10.24px;top:38.24px;width:50px;font-size:2.3px;line-height:4px;color:#2a2a2a;text-align:left;white-space:nowrap;font-weight:bold;">ground engineering</div><div style="position:absolute;left:38.64px;top:38.34px;width:24px;font-size:2.1px;line-height:2.42px;color:#666;text-align:center;white-space:nowrap;">2024-05-12</div><div style="position:absolute;left:58.55px;top:38.34px;width:24px;font-size:2.1px;line-height:2.42px;color:#666;text-align:center;white-space:nowrap;">2024-05-25</div><div style="position:absolute;left:74.77px;top:38.34px;width:24px;font-size:2.1px;line-height:2.42px;color:#666;text-align:center;white-space:nowrap;">10.0 d.</div><div style="position:absolute;left:89.85px;top:38.34px;width:24px;font-size:2.1px;line-height:2.42px;color:#666;text-align:center;white-space:nowrap;">10.0%</div><div style="position:absolute;left:-0.45px;top:46.42px;width:10px;font-size:2.4px;line-height:2.76px;color:#999;text-align:center;white-space:nowrap;">4</div><div style="position:absolute;left:13.66px;top:44.5px;width:50px;font-size:2.2px;line-height:4px;color:#555;text-align:left;white-space:nowrap;">Bottom, wall surface in<br>waterproofing</div><div style="position:absolute;left:38.64px;top:46.59px;width:24px;font-size:2.1px;line-height:2.42px;color:#666;text-align:center;white-space:nowrap;">2024-05-12</div><div style="position:absolute;left:58.55px;top:46.59px;width:24px;font-size:2.1px;line-height:2.42px;color:#666;text-align:center;white-space:nowrap;">2024-05-16</div><div style="position:absolute;left:74.77px;top:46.59px;width:24px;font-size:2.1px;line-height:2.42px;color:#666;text-align:center;white-space:nowrap;">5.0 d.</div><div style="position:absolute;left:89.85px;top:46.59px;width:24px;font-size:2.1px;line-height:2.42px;color:#666;text-align:center;white-space:nowrap;">5.0%</div><div style="position:absolute;left:-0.45px;top:54.81px;width:10px;font-size:2.4px;line-height:2.76px;color:#999;text-align:center;white-space:nowrap;">5</div><div style="position:absolute;left:13.66px;top:54.89px;width:50px;font-size:2.2px;line-height:4px;color:#555;text-align:left;white-space:nowrap;">water closed test</div><div style="position:absolute;left:38.64px;top:54.98px;width:24px;font-size:2.1px;line-height:2.42px;color:#666;text-align:center;white-space:nowrap;">2024-05-16</div><div style="position:absolute;left:58.55px;top:54.98px;width:24px;font-size:2.1px;line-height:2.42px;color:#666;text-align:center;white-space:nowrap;">2024-05-20</div><div style="position:absolute;left:74.77px;top:54.98px;width:24px;font-size:2.1px;line-height:2.42px;color:#666;text-align:center;white-space:nowrap;">3.0 d.</div><div style="position:absolute;left:89.85px;top:54.98px;width:24px;font-size:2.1px;line-height:2.42px;color:#666;text-align:center;white-space:nowrap;">100%</div><div style="position:absolute;left:-0.45px;top:61.78px;width:10px;font-size:2.4px;line-height:2.76px;color:#999;text-align:center;white-space:nowrap;">6</div><div style="position:absolute;left:13.66px;top:61.86px;width:50px;font-size:2.2px;line-height:4px;color:#555;text-align:left;white-space:nowrap;">tile flooring</div><div style="position:absolute;left:38.64px;top:61.95px;width:24px;font-size:2.1px;line-height:2.42px;color:#666;text-align:center;white-space:nowrap;">2024-05-20</div><div style="position:absolute;left:58.55px;top:61.95px;width:24px;font-size:2.1px;line-height:2.42px;color:#666;text-align:center;white-space:nowrap;">2024-05-25</div><div style="position:absolute;left:74.77px;top:61.95px;width:24px;font-size:2.1px;line-height:2.42px;color:#666;text-align:center;white-space:nowrap;">5.0 d.</div><div style="position:absolute;left:89.85px;top:61.95px;width:24px;font-size:2.1px;line-height:2.42px;color:#666;text-align:center;white-space:nowrap;">100%</div><div style="position:absolute;left:-0.45px;top:68.46px;width:10px;font-size:2.4px;line-height:2.76px;color:#999;text-align:center;white-space:nowrap;">7</div><div style="position:absolute;left:10.24px;top:68.54px;width:50px;font-size:2.3px;line-height:4px;color:#2a2a2a;text-align:left;white-space:nowrap;font-weight:bold;">Door installation works</div><div style="position:absolute;left:38.64px;top:68.64px;width:24px;font-size:2.1px;line-height:2.42px;color:#666;text-align:center;white-space:nowrap;">2024-05-25</div><div style="position:absolute;left:58.55px;top:68.64px;width:24px;font-size:2.1px;line-height:2.42px;color:#666;text-align:center;white-space:nowrap;">2024-06-05</div><div style="position:absolute;left:74.77px;top:68.64px;width:24px;font-size:2.1px;line-height:2.42px;color:#666;text-align:center;white-space:nowrap;">10.0 d.</div><div style="position:absolute;left:89.85px;top:68.64px;width:24px;font-size:2.1px;line-height:2.42px;color:#666;text-align:center;white-space:nowrap;">10.0%</div><div style="position:absolute;left:-0.45px;top:75.43px;width:10px;font-size:2.4px;line-height:2.76px;color:#999;text-align:center;white-space:nowrap;">8</div><div style="position:absolute;left:13.66px;top:75.51px;width:50px;font-size:2.2px;line-height:4px;color:#555;text-align:left;white-space:nowrap;">Closet installation works</div><div style="position:absolute;left:38.64px;top:75.61px;width:24px;font-size:2.1px;line-height:2.42px;color:#666;text-align:center;white-space:nowrap;">2024-05-25</div><div style="position:absolute;left:58.55px;top:75.61px;width:24px;font-size:2.1px;line-height:2.42px;color:#666;text-align:center;white-space:nowrap;">2024-05-30</div><div style="position:absolute;left:74.77px;top:75.61px;width:24px;font-size:2.1px;line-height:2.42px;color:#666;text-align:center;white-space:nowrap;">5.0 d.</div><div style="position:absolute;left:89.85px;top:75.61px;width:24px;font-size:2.1px;line-height:2.42px;color:#666;text-align:center;white-space:nowrap;">5.0%</div><div style="position:absolute;left:-0.45px;top:82.55px;width:10px;font-size:2.4px;line-height:2.76px;color:#999;text-align:center;white-space:nowrap;">9</div><div style="position:absolute;left:13.66px;top:82.63px;width:50px;font-size:2.2px;line-height:4px;color:#555;text-align:left;white-space:nowrap;">wall leveling</div><div style="position:absolute;left:38.64px;top:82.72px;width:24px;font-size:2.1px;line-height:2.42px;color:#666;text-align:center;white-space:nowrap;">2024-05-30</div><div style="position:absolute;left:58.55px;top:82.72px;width:24px;font-size:2.1px;line-height:2.42px;color:#666;text-align:center;white-space:nowrap;">2024-06-03</div><div style="position:absolute;left:74.77px;top:82.72px;width:24px;font-size:2.1px;line-height:2.42px;color:#666;text-align:center;white-space:nowrap;">3.0 d.</div><div style="position:absolute;left:89.85px;top:82.72px;width:24px;font-size:2.1px;line-height:2.42px;color:#666;text-align:center;white-space:nowrap;">10.0%</div><div style="position:absolute;left:-0.45px;top:88.95px;width:10px;font-size:2.4px;line-height:2.76px;color:#999;text-align:center;white-space:nowrap;">10</div><div style="position:absolute;left:13.66px;top:89.03px;width:50px;font-size:2.2px;line-height:4px;color:#555;text-align:left;white-space:nowrap;">tiling/puttying</div><div style="position:absolute;left:38.64px;top:89.12px;width:24px;font-size:2.1px;line-height:2.42px;color:#666;text-align:center;white-space:nowrap;">2024-06-03</div><div style="position:absolute;left:58.55px;top:89.12px;width:24px;font-size:2.1px;line-height:2.42px;color:#666;text-align:center;white-space:nowrap;">2024-06-07</div><div style="position:absolute;left:74.77px;top:89.12px;width:24px;font-size:2.1px;line-height:2.42px;color:#666;text-align:center;white-space:nowrap;">5.0 d.</div><div style="position:absolute;left:89.85px;top:89.12px;width:24px;font-size:2.1px;line-height:2.42px;color:#666;text-align:center;white-space:nowrap;">100%</div><div style="position:absolute;left:-0.45px;top:95.35px;width:10px;font-size:2.4px;line-height:2.76px;color:#999;text-align:center;white-space:nowrap;">11</div><div style="position:absolute;left:10.24px;top:95.43px;width:50px;font-size:2.3px;line-height:4px;color:#2a2a2a;text-align:left;white-space:nowrap;font-weight:bold;">putty</div><div style="position:absolute;left:38.64px;top:95.52px;width:24px;font-size:2.1px;line-height:2.42px;color:#666;text-align:center;white-space:nowrap;">2024-06-07</div><div style="position:absolute;left:58.55px;top:95.52px;width:24px;font-size:2.1px;line-height:2.42px;color:#666;text-align:center;white-space:nowrap;">2024-06-15</div><div style="position:absolute;left:74.77px;top:95.52px;width:24px;font-size:2.1px;line-height:2.42px;color:#666;text-align:center;white-space:nowrap;">10.0 d.</div><div style="position:absolute;left:89.85px;top:95.52px;width:24px;font-size:2.1px;line-height:2.42px;color:#666;text-align:center;white-space:nowrap;">10.0%</div><div style="position:absolute;left:-0.45px;top:102.32px;width:10px;font-size:2.4px;line-height:2.76px;color:#999;text-align:center;white-space:nowrap;">12</div><div style="position:absolute;left:13.66px;top:102.4px;width:50px;font-size:2.2px;line-height:4px;color:#555;text-align:left;white-space:nowrap;">wall emulsion paint</div><div style="position:absolute;left:38.64px;top:102.49px;width:24px;font-size:2.1px;line-height:2.42px;color:#666;text-align:center;white-space:nowrap;">2024-06-07</div><div style="position:absolute;left:58.55px;top:102.49px;width:24px;font-size:2.1px;line-height:2.42px;color:#666;text-align:center;white-space:nowrap;">2024-06-13</div><div style="position:absolute;left:74.77px;top:102.49px;width:24px;font-size:2.1px;line-height:2.42px;color:#666;text-align:center;white-space:nowrap;">5.0 d.</div><div style="position:absolute;left:89.85px;top:102.49px;width:24px;font-size:2.1px;line-height:2.42px;color:#666;text-align:center;white-space:nowrap;">100%</div><div style="position:absolute;left:-0.45px;top:109px;width:10px;font-size:2.4px;line-height:2.76px;color:#999;text-align:center;white-space:nowrap;">13</div><div style="position:absolute;left:13.66px;top:109.08px;width:50px;font-size:2.2px;line-height:4px;color:#555;text-align:left;white-space:nowrap;">Other works</div><div style="position:absolute;left:38.64px;top:109.18px;width:24px;font-size:2.1px;line-height:2.42px;color:#666;text-align:center;white-space:nowrap;">2024-06-09</div><div style="position:absolute;left:58.55px;top:109.18px;width:24px;font-size:2.1px;line-height:2.42px;color:#666;text-align:center;white-space:nowrap;">2024-06-13</div><div style="position:absolute;left:74.77px;top:109.18px;width:24px;font-size:2.1px;line-height:2.42px;color:#666;text-align:center;white-space:nowrap;">5.0 d.</div><div style="position:absolute;left:89.85px;top:109.18px;width:24px;font-size:2.1px;line-height:2.42px;color:#666;text-align:center;white-space:nowrap;">10.0%</div><div style="position:absolute;left:-0.45px;top:115.83px;width:10px;font-size:2.4px;line-height:2.76px;color:#999;text-align:center;white-space:nowrap;">14</div><div style="position:absolute;left:13.66px;top:115.91px;width:50px;font-size:2.2px;line-height:4px;color:#555;text-align:left;white-space:nowrap;">clean and healthy</div><div style="position:absolute;left:38.64px;top:116px;width:24px;font-size:2.1px;line-height:2.42px;color:#666;text-align:center;white-space:nowrap;">2024-06-13</div><div style="position:absolute;left:58.55px;top:116px;width:24px;font-size:2.1px;line-height:2.42px;color:#666;text-align:center;white-space:nowrap;">2024-06-15</div><div style="position:absolute;left:74.77px;top:116px;width:24px;font-size:2.1px;line-height:2.42px;color:#666;text-align:center;white-space:nowrap;">3.0 d.</div><div style="position:absolute;left:89.85px;top:116px;width:24px;font-size:2.1px;line-height:2.42px;color:#666;text-align:center;white-space:nowrap;">100.0%</div></div>

<div class="cap" id="cap3" style="left:789.6px">Home decoration construction g…</div>
<div class="card" style="left:1119.4px"></div>
<svg class="abs" style="left:1121px;top:652px" width="313" height="235" viewBox="1121 652 313 235" fill="none"><path d="M1203.6 662.0 L1203.6 670.1 L1256.2 670.1 L1256.2 704.8 L1226.8 704.8 L1226.8 742.3 L1253.1 742.3 L1253.1 778.6 L1236.1 778.6 L1236.1 769.4 L1244.6 769.4 L1244.6 751.1 L1218.3 751.1 L1218.3 696.0 L1247.7 696.0 L1247.7 679.0 L1195.9 679.0 L1203.6 670.1 M1256.2 670.1 L1247.7 679.0 M1247.7 687.5 L1256.2 687.5 M1247.7 696.0 L1256.2 704.8 M1218.3 696.0 L1226.8 704.8 M1218.3 751.1 L1226.8 742.3 M1236.1 742.3 L1236.1 751.1 M1253.1 742.3 L1244.6 751.1 M1244.6 760.1 L1253.1 760.1 M1244.6 769.4 L1253.1 778.6 M1195.1 662.0 L1203.6 662.0 M1218.3 780.0 L1218.3 765.0 L1236.1 765.0 L1236.1 769.4 M1218.3 765.0 L1226.8 774.0 L1226.8 780.0 M1339.7 662.0 L1339.7 696.0 L1314.1 696.0 L1314.1 715.3 M1348.9 662.0 L1348.9 704.8 L1323.4 704.8 L1323.4 713.7 M1339.7 687.5 L1348.9 687.5 M1339.7 696.0 L1348.9 704.8 M1331.6 696.0 L1331.6 704.8 M1314.1 696.0 L1323.4 704.8 M1314.1 713.4 L1323.4 713.4 M1314.1 715.3 Q1314.9 724.6 1327.6 724.9 M1323.4 715.3 Q1335.8 716.1 1336.3 726.9 M1325.7 716.1 L1325.7 724.6 M1327.6 724.9 L1327.6 769.4 M1336.3 726.9 L1336.3 769.4 M1327.6 726.9 L1336.3 726.9 M1327.6 756.7 L1336.3 756.7 M1327.6 761.1 L1327.6 768.9 L1317.2 781.2 L1323.4 787.9 L1331.9 778.9 L1340.4 787.9 L1347.4 781.2 L1336.3 768.9 L1336.3 761.1 M1218.3 771.2 L1218.3 792.8 L1202.9 806.0 L1209.8 812.1 L1218.3 803.6 L1218.3 863.9 M1226.8 771.2 L1226.8 792.8 L1242.3 806.0 L1236.1 812.1 L1226.8 803.6 L1226.8 853.1 L1237.6 860.1 M1218.3 782.8 L1226.8 782.8 M1218.3 811.4 L1226.8 811.4 M1240.7 832.2 L1171.2 832.2 L1171.2 841.0 L1232.2 841.0 L1232.2 853.1 L1239.2 860.1 L1260.8 860.1 L1260.8 834.6 L1308.0 834.6 L1314.1 843.8 L1321.9 840.7 L1317.2 834.6 L1355.9 834.6 L1355.9 860.1 L1373.7 860.1 L1373.7 851.6 L1365.2 851.6 L1365.2 826.1 L1251.6 826.1 L1251.6 851.6 L1242.3 851.6 L1242.3 860.1 M1240.7 832.2 L1232.2 841.0 M1240.7 832.2 L1240.7 849.2 L1232.2 849.2 M1179.7 841.0 L1179.7 858.5 L1186.6 858.5 L1186.6 841.0 M1251.6 826.1 L1260.8 834.6 M1251.6 843.5 L1260.8 843.5 M1251.6 851.6 L1260.8 860.1 M1365.2 826.1 L1355.9 834.6 M1355.9 843.5 L1365.2 843.5 M1365.2 851.6 L1355.9 860.1" stroke="#3d3778" stroke-width="0.75"/><path d="M1300.9 794.1 L1302.7 790.0 M1303.1 793.4 L1304.9 789.4 M1305.3 792.7 L1307.2 788.7 M1307.5 792.0 L1309.4 788.0 M1309.7 791.4 L1311.6 787.3 M1312.0 790.7 L1313.8 786.7 M1314.2 790.0 L1316.0 786.0 M1316.4 789.3 L1318.3 785.3 M1318.6 788.6 L1320.5 784.6 M1342.6 792.5 L1344.4 788.5 M1345.0 793.1 L1346.9 789.1 M1347.4 793.7 L1349.3 789.7 M1349.8 794.3 L1351.7 790.2 M1352.2 794.8 L1354.1 790.8 M1354.7 795.4 L1356.5 791.4 M1357.1 796.0 L1358.9 792.0 M1359.5 796.6 L1361.3 792.6 M1361.9 797.1 L1363.8 793.1 M1184.9 811.8 L1186.8 807.8 M1187.3 812.0 L1189.1 808.0 M1189.6 812.2 L1191.4 808.2 M1191.9 812.4 L1193.7 808.4 M1194.2 812.6 L1196.1 808.6 M1196.5 812.8 L1198.4 808.8 M1198.8 813.0 L1200.7 809.0 M1201.2 813.2 L1203.0 809.2 M1203.5 813.4 L1205.3 809.4 M1238.3 816.5 L1240.1 812.4 M1240.8 816.8 L1242.6 812.7 M1243.3 817.0 L1245.1 813.0 M1245.8 817.3 L1247.7 813.3 M1248.3 817.6 L1250.2 813.6 M1250.8 817.9 L1252.7 813.9 M1253.3 818.2 L1255.2 814.2 M1255.8 818.5 L1257.7 814.5 M1258.4 818.8 L1260.2 814.8 M1314.8 848.2 L1316.6 844.1 M1317.3 848.5 L1319.1 844.5 M1319.8 848.9 L1321.6 844.9 M1322.3 849.3 L1324.2 845.3 M1324.8 849.7 L1326.7 845.7 M1327.3 850.1 L1329.2 846.1 M1329.8 850.5 L1331.7 846.5 M1332.3 850.9 L1334.2 846.8 M1334.9 851.2 L1336.7 847.2 M1232.9 869.8 L1234.7 865.8 M1235.5 870.1 L1237.3 866.1 M1238.1 870.4 L1239.9 866.4 M1240.7 870.7 L1242.5 866.6 M1243.3 871.0 L1245.1 866.9 M1245.9 871.2 L1247.7 867.2 M1248.5 871.5 L1250.4 867.5 M1251.1 871.8 L1253.0 867.8 M1253.7 872.1 L1255.6 868.1" stroke="#38326c" stroke-width="0.6"/><path d="M1288.2 782.3 L1288.2 791.0 L1296.8 791.0 L1296.8 782.3 Z M1180.0 791.3 L1180.0 799.9 L1188.6 799.9 L1188.6 791.3 Z M1368.6 790.8 L1368.6 799.5 L1377.2 799.5 L1377.2 790.8 Z M1263.9 812.4 L1263.9 821.1 L1272.6 821.1 L1272.6 812.4 Z M1341.5 845.2 L1341.5 853.9 L1350.2 853.9 L1350.2 845.2 Z M1259.6 866.2 L1259.6 874.9 L1268.2 874.9 L1268.2 866.2 Z" stroke="#3f3990" stroke-width="0.6" stroke-dasharray="1 0.6"/><path d="M1288.2 782.3 L1296.8 791.0 M1288.2 791.0 L1296.8 782.3 M1292.5 777.7 L1292.5 781.4 M1292.5 791.9 L1292.5 795.6 M1283.5 786.6 L1286.9 786.6 M1298.1 786.6 L1301.5 786.6 M1180.0 791.3 L1188.6 799.9 M1180.0 799.9 L1188.6 791.3 M1184.3 786.6 L1184.3 790.3 M1184.3 800.9 L1184.3 804.6 M1175.4 795.6 L1178.8 795.6 M1189.9 795.6 L1193.3 795.6 M1368.6 790.8 L1377.2 799.5 M1368.6 799.5 L1377.2 790.8 M1372.9 786.2 L1372.9 789.9 M1372.9 800.4 L1372.9 804.1 M1363.9 795.1 L1367.3 795.1 M1378.4 795.1 L1381.8 795.1 M1263.9 812.4 L1272.6 821.1 M1263.9 821.1 L1272.6 812.4 M1268.2 807.8 L1268.2 811.5 M1268.2 822.0 L1268.2 825.7 M1259.3 816.8 L1262.7 816.8 M1273.8 816.8 L1277.2 816.8 M1341.5 845.2 L1350.2 853.9 M1341.5 853.9 L1350.2 845.2 M1345.8 840.6 L1345.8 844.3 M1345.8 854.8 L1345.8 858.5 M1336.9 849.5 L1340.3 849.5 M1351.4 849.5 L1354.8 849.5 M1259.6 866.2 L1268.2 874.9 M1259.6 874.9 L1268.2 866.2 M1263.9 861.6 L1263.9 865.3 M1263.9 875.8 L1263.9 879.5 M1255.0 870.6 L1258.4 870.6 M1269.5 870.6 L1272.9 870.6" stroke="#4b44a3" stroke-width="0.7"/><path d="M1194.4 660.9 H1358.2 V866.2 H1194.4 Z M1194.4 774.9 H1358.2 M1300.7 774.9 V699 H1314.3 M1348.7 699 H1358.2" stroke="#a9a8ea" stroke-width="1.7"/></svg>

<div class="cap" id="cap4" style="left:1133.4px">Plumbing And Piping Plan</div>
</div></div></div>
</body></html>
